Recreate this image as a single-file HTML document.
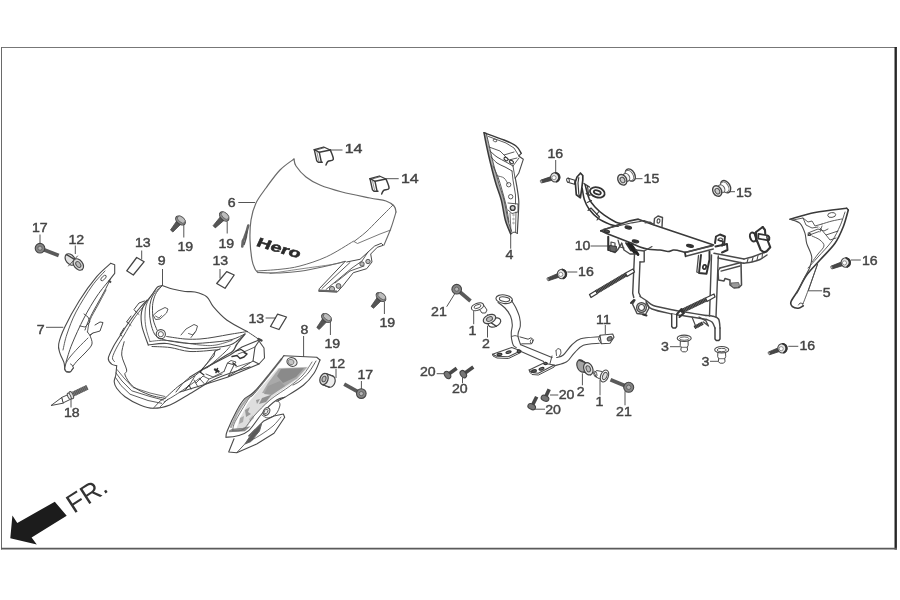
<!DOCTYPE html>
<html lang="en">
<head>
<meta charset="utf-8">
<title>Parts diagram</title>
<style>
html,body{margin:0;padding:0;background:#fff;}
body{width:900px;height:600px;overflow:hidden;font-family:"Liberation Sans",Arial,Helvetica,sans-serif;}
svg{display:block;position:absolute;left:0;top:0;filter:blur(0.6px);}
svg text{font-family:"Liberation Sans",Arial,Helvetica,sans-serif;}
</style>
</head>
<body>
<svg width="900" height="600" viewBox="0 0 900 600">
<rect x="0" y="0" width="900" height="600" fill="#fff"/>
<line x1="1" y1="47.5" x2="897" y2="47.5" stroke="#777" stroke-width="1"/>
<line x1="1.5" y1="47" x2="1.5" y2="549.5" stroke="#6a6a6a" stroke-width="1"/>
<line x1="895.7" y1="47" x2="895.7" y2="549.5" stroke="#262626" stroke-width="2.4"/>
<line x1="1" y1="548.6" x2="897" y2="548.6" stroke="#5a5a5a" stroke-width="1.9"/>
<polygon points="10.3,538.2 12.4,515.4 17.3,523 54.8,501.7 66.7,515.7 31.6,537.6 36.8,544.5" fill="#1c1c1c"/>
<text transform="translate(73.8 514) rotate(-33)" font-size="26.5" fill="#333">FR.</text>
<text transform="translate(31.9 232.3) scale(1.15 1)" font-size="12.3" fill="#444" stroke="#444" stroke-width="0.4">17</text>
<line x1="40" y1="234.5" x2="40" y2="245" stroke="#555" stroke-width="1"/>
<text transform="translate(68.4 244.3) scale(1.15 1)" font-size="12.3" fill="#444" stroke="#444" stroke-width="0.4">12</text>
<line x1="75.3" y1="245.5" x2="75.3" y2="254" stroke="#555" stroke-width="1"/>
<text transform="translate(134.9 247) scale(1.15 1)" font-size="12.3" fill="#444" stroke="#444" stroke-width="0.4">13</text>
<line x1="141.7" y1="250.5" x2="141.7" y2="259.5" stroke="#555" stroke-width="1"/>
<text transform="translate(177.4 251.1) scale(1.15 1)" font-size="12.3" fill="#444" stroke="#444" stroke-width="0.4">19</text>
<line x1="183.8" y1="223.5" x2="183.8" y2="237.5" stroke="#555" stroke-width="1"/>
<text transform="translate(218.4 247.8) scale(1.15 1)" font-size="12.3" fill="#444" stroke="#444" stroke-width="0.4">19</text>
<line x1="227.2" y1="221.5" x2="227.2" y2="233.5" stroke="#555" stroke-width="1"/>
<text transform="translate(227.7 207) scale(1.15 1)" font-size="12.3" fill="#444" stroke="#444" stroke-width="0.4">6</text>
<line x1="238.3" y1="202.5" x2="255" y2="202.5" stroke="#555" stroke-width="1"/>
<text transform="translate(157.7 265.3) scale(1.15 1)" font-size="12.3" fill="#444" stroke="#444" stroke-width="0.4">9</text>
<line x1="162.5" y1="269" x2="162.5" y2="286" stroke="#555" stroke-width="1"/>
<text transform="translate(212.4 265.3) scale(1.15 1)" font-size="12.3" fill="#444" stroke="#444" stroke-width="0.4">13</text>
<line x1="220" y1="269" x2="220" y2="278.5" stroke="#555" stroke-width="1"/>
<text transform="translate(344.7 153.3) scale(1.3 1)" font-size="12.3" fill="#444" stroke="#444" stroke-width="0.4">14</text>
<line x1="330.7" y1="150" x2="342.5" y2="150" stroke="#555" stroke-width="1"/>
<text transform="translate(400.9 182.5) scale(1.3 1)" font-size="12.3" fill="#444" stroke="#444" stroke-width="0.4">14</text>
<line x1="386.7" y1="178.7" x2="398.7" y2="178.7" stroke="#555" stroke-width="1"/>
<text transform="translate(36.7 334.3) scale(1.15 1)" font-size="12.3" fill="#444" stroke="#444" stroke-width="0.4">7</text>
<line x1="46" y1="327.3" x2="63.3" y2="327.3" stroke="#555" stroke-width="1"/>
<text transform="translate(63.9 417) scale(1.15 1)" font-size="12.3" fill="#444" stroke="#444" stroke-width="0.4">18</text>
<line x1="71" y1="398.5" x2="71" y2="407.5" stroke="#555" stroke-width="1"/>
<text transform="translate(248.4 322.7) scale(1.15 1)" font-size="12.3" fill="#444" stroke="#444" stroke-width="0.4">13</text>
<line x1="265.6" y1="318" x2="276" y2="318" stroke="#555" stroke-width="1"/>
<text transform="translate(300.4 334.3) scale(1.15 1)" font-size="12.3" fill="#444" stroke="#444" stroke-width="0.4">8</text>
<line x1="303.6" y1="336" x2="303.6" y2="357" stroke="#555" stroke-width="1"/>
<text transform="translate(324.4 348.3) scale(1.15 1)" font-size="12.3" fill="#444" stroke="#444" stroke-width="0.4">19</text>
<line x1="330.4" y1="322" x2="330.4" y2="335" stroke="#555" stroke-width="1"/>
<text transform="translate(379.4 327.3) scale(1.15 1)" font-size="12.3" fill="#444" stroke="#444" stroke-width="0.4">19</text>
<line x1="384.4" y1="302" x2="384.4" y2="314" stroke="#555" stroke-width="1"/>
<text transform="translate(329.4 367.7) scale(1.15 1)" font-size="12.3" fill="#444" stroke="#444" stroke-width="0.4">12</text>
<line x1="336" y1="369" x2="336" y2="378" stroke="#555" stroke-width="1"/>
<text transform="translate(357.4 378.7) scale(1.15 1)" font-size="12.3" fill="#444" stroke="#444" stroke-width="0.4">17</text>
<line x1="361.4" y1="381" x2="361.4" y2="391" stroke="#555" stroke-width="1"/>
<text transform="translate(547.4 158.3) scale(1.15 1)" font-size="12.3" fill="#444" stroke="#444" stroke-width="0.4">16</text>
<line x1="555.7" y1="160" x2="555.7" y2="172" stroke="#555" stroke-width="1"/>
<text transform="translate(505.4 259.1) scale(1.15 1)" font-size="12.3" fill="#444" stroke="#444" stroke-width="0.4">4</text>
<line x1="510.7" y1="234" x2="510.7" y2="248.7" stroke="#555" stroke-width="1"/>
<text transform="translate(643.6 182.8) scale(1.15 1)" font-size="12.3" fill="#444" stroke="#444" stroke-width="0.4">15</text>
<line x1="635" y1="178.7" x2="642.5" y2="178.7" stroke="#555" stroke-width="1"/>
<text transform="translate(736.1 197) scale(1.15 1)" font-size="12.3" fill="#444" stroke="#444" stroke-width="0.4">15</text>
<line x1="729.2" y1="191.7" x2="735" y2="191.7" stroke="#555" stroke-width="1"/>
<text transform="translate(574.7 250.3) scale(1.15 1)" font-size="12.3" fill="#444" stroke="#444" stroke-width="0.4">10</text>
<line x1="590.5" y1="246" x2="609" y2="246" stroke="#555" stroke-width="1"/>
<text transform="translate(578.1 275.6) scale(1.15 1)" font-size="12.3" fill="#444" stroke="#444" stroke-width="0.4">16</text>
<line x1="567.3" y1="272" x2="577.3" y2="272" stroke="#555" stroke-width="1"/>
<text transform="translate(861.9 264.5) scale(1.15 1)" font-size="12.3" fill="#444" stroke="#444" stroke-width="0.4">16</text>
<line x1="850.8" y1="260" x2="860.8" y2="260" stroke="#555" stroke-width="1"/>
<text transform="translate(799.4 349.5) scale(1.15 1)" font-size="12.3" fill="#444" stroke="#444" stroke-width="0.4">16</text>
<line x1="788.3" y1="346.3" x2="798.3" y2="346.3" stroke="#555" stroke-width="1"/>
<text transform="translate(822.7 297) scale(1.15 1)" font-size="12.3" fill="#444" stroke="#444" stroke-width="0.4">5</text>
<path d="M817.5 264.2 L808.3 290.8 L821.7 290.8" fill="none" stroke="#555" stroke-width="1.0" stroke-linecap="round" stroke-linejoin="round" />
<text transform="translate(596.1 323.6) scale(1.15 1)" font-size="12.3" fill="#444" stroke="#444" stroke-width="0.4">11</text>
<line x1="605.3" y1="325" x2="605.3" y2="334.2" stroke="#555" stroke-width="1"/>
<text transform="translate(661.1 351.1) scale(1.15 1)" font-size="12.3" fill="#444" stroke="#444" stroke-width="0.4">3</text>
<line x1="670" y1="346.7" x2="680" y2="346.7" stroke="#555" stroke-width="1"/>
<text transform="translate(701.4 366.1) scale(1.15 1)" font-size="12.3" fill="#444" stroke="#444" stroke-width="0.4">3</text>
<line x1="710" y1="361.3" x2="718.3" y2="361.3" stroke="#555" stroke-width="1"/>
<text transform="translate(431.1 315.6) scale(1.15 1)" font-size="12.3" fill="#444" stroke="#444" stroke-width="0.4">21</text>
<line x1="455" y1="293.3" x2="446.7" y2="306.7" stroke="#555" stroke-width="1"/>
<text transform="translate(468.6 335) scale(1.15 1)" font-size="12.3" fill="#444" stroke="#444" stroke-width="0.4">1</text>
<line x1="473.7" y1="310.8" x2="473.7" y2="324.2" stroke="#555" stroke-width="1"/>
<text transform="translate(481.9 347.8) scale(1.15 1)" font-size="12.3" fill="#444" stroke="#444" stroke-width="0.4">2</text>
<line x1="487.5" y1="325.8" x2="487.5" y2="337.5" stroke="#555" stroke-width="1"/>
<text transform="translate(419.9 376.1) scale(1.15 1)" font-size="12.3" fill="#444" stroke="#444" stroke-width="0.4">20</text>
<line x1="436.7" y1="373.7" x2="444.2" y2="373.7" stroke="#555" stroke-width="1"/>
<text transform="translate(451.9 392.8) scale(1.15 1)" font-size="12.3" fill="#444" stroke="#444" stroke-width="0.4">20</text>
<line x1="462.5" y1="377.5" x2="462.5" y2="383.3" stroke="#555" stroke-width="1"/>
<text transform="translate(558.7 399.1) scale(1.15 1)" font-size="12.3" fill="#444" stroke="#444" stroke-width="0.4">20</text>
<line x1="550" y1="395" x2="558.3" y2="395" stroke="#555" stroke-width="1"/>
<text transform="translate(545.2 413.9) scale(1.15 1)" font-size="12.3" fill="#444" stroke="#444" stroke-width="0.4">20</text>
<line x1="535" y1="409.2" x2="545" y2="409.2" stroke="#555" stroke-width="1"/>
<text transform="translate(576.7 395.6) scale(1.15 1)" font-size="12.3" fill="#444" stroke="#444" stroke-width="0.4">2</text>
<line x1="582.4" y1="373.3" x2="582.4" y2="385.3" stroke="#555" stroke-width="1"/>
<text transform="translate(595.4 405.6) scale(1.15 1)" font-size="12.3" fill="#444" stroke="#444" stroke-width="0.4">1</text>
<line x1="600" y1="380" x2="600" y2="395.3" stroke="#555" stroke-width="1"/>
<text transform="translate(616.1 415.6) scale(1.15 1)" font-size="12.3" fill="#444" stroke="#444" stroke-width="0.4">21</text>
<line x1="625" y1="391.3" x2="625" y2="405.3" stroke="#555" stroke-width="1"/>
<line x1="40" y1="248.2" x2="58.7" y2="255.5" stroke="#5a5a5a" stroke-width="3.8" stroke-linecap="butt"/>
<circle cx="40" cy="248.2" r="4.8" fill="#858585" stroke="#444" stroke-width="1.1"/>
<circle cx="40" cy="248.2" r="2.1" fill="#b5b5b5" stroke="#555" stroke-width="0.8"/>
<line x1="361.3" y1="393.6" x2="344.2" y2="384.1" stroke="#5a5a5a" stroke-width="3.8" stroke-linecap="butt"/>
<circle cx="361.3" cy="393.6" r="4.8" fill="#858585" stroke="#444" stroke-width="1.1"/>
<circle cx="361.3" cy="393.6" r="2.1" fill="#b5b5b5" stroke="#555" stroke-width="0.8"/>
<line x1="456.7" y1="289.2" x2="470.5" y2="301" stroke="#5a5a5a" stroke-width="3.8" stroke-linecap="butt"/>
<circle cx="456.7" cy="289.2" r="4.8" fill="#858585" stroke="#444" stroke-width="1.1"/>
<circle cx="456.7" cy="289.2" r="2.1" fill="#b5b5b5" stroke="#555" stroke-width="0.8"/>
<line x1="628.7" y1="387.3" x2="610.5" y2="379.8" stroke="#5a5a5a" stroke-width="3.8" stroke-linecap="butt"/>
<circle cx="628.7" cy="387.3" r="5" fill="#858585" stroke="#444" stroke-width="1.1"/>
<circle cx="628.7" cy="387.3" r="2.2" fill="#b5b5b5" stroke="#555" stroke-width="0.8"/>
<path d="M554.7 175.3 L540.9 180.1 L541.7 182.9 L555.9 179.3Z" fill="#484848" stroke="#3a3a3a" stroke-width="0.8" stroke-linecap="round" stroke-linejoin="round" />
<ellipse cx="541.3" cy="181.5" rx="0.9" ry="1.5" transform="rotate(163.3 541.3 181.5)" fill="#bbb" stroke="#444" stroke-width="0.6"/>
<circle cx="555.3" cy="177.3" r="4.7" fill="#e8e8e8" stroke="#444" stroke-width="1.1"/>
<path d="M555.8 172.9 A4.7 4.7 0 0 1 556.8 181.5" fill="none" stroke="#333" stroke-width="2" stroke-linecap="round"/>
<circle cx="554" cy="177.7" r="2.1" fill="#fff" stroke="#777" stroke-width="0.8"/>
<path d="M561.3 272 L547.5 277.9 L548.5 280.7 L562.7 276Z" fill="#484848" stroke="#3a3a3a" stroke-width="0.8" stroke-linecap="round" stroke-linejoin="round" />
<ellipse cx="548" cy="279.3" rx="0.9" ry="1.5" transform="rotate(159.3 548 279.3)" fill="#bbb" stroke="#444" stroke-width="0.6"/>
<circle cx="562" cy="274" r="4.7" fill="#e8e8e8" stroke="#444" stroke-width="1.1"/>
<path d="M562.5 269.6 A4.7 4.7 0 0 1 563.5 278.2" fill="none" stroke="#333" stroke-width="2" stroke-linecap="round"/>
<circle cx="560.7" cy="274.4" r="2.1" fill="#fff" stroke="#777" stroke-width="0.8"/>
<path d="M845.1 260.5 L831.2 266.1 L832.2 268.9 L846.5 264.5Z" fill="#484848" stroke="#3a3a3a" stroke-width="0.8" stroke-linecap="round" stroke-linejoin="round" />
<ellipse cx="831.7" cy="267.5" rx="0.9" ry="1.5" transform="rotate(160.5 831.7 267.5)" fill="#bbb" stroke="#444" stroke-width="0.6"/>
<circle cx="845.8" cy="262.5" r="4.7" fill="#e8e8e8" stroke="#444" stroke-width="1.1"/>
<path d="M846.3 258.1 A4.7 4.7 0 0 1 847.3 266.7" fill="none" stroke="#333" stroke-width="2" stroke-linecap="round"/>
<circle cx="844.5" cy="262.9" r="2.1" fill="#fff" stroke="#777" stroke-width="0.8"/>
<path d="M781.8 346.3 L768.7 351.9 L769.7 354.7 L783.2 350.3Z" fill="#484848" stroke="#3a3a3a" stroke-width="0.8" stroke-linecap="round" stroke-linejoin="round" />
<ellipse cx="769.2" cy="353.3" rx="0.9" ry="1.5" transform="rotate(159.4 769.2 353.3)" fill="#bbb" stroke="#444" stroke-width="0.6"/>
<circle cx="782.5" cy="348.3" r="4.7" fill="#e8e8e8" stroke="#444" stroke-width="1.1"/>
<path d="M783 343.9 A4.7 4.7 0 0 1 784 352.5" fill="none" stroke="#333" stroke-width="2" stroke-linecap="round"/>
<circle cx="781.2" cy="348.7" r="2.1" fill="#fff" stroke="#777" stroke-width="0.8"/>
<line x1="447.5" y1="375" x2="456.7" y2="368.3" stroke="#484848" stroke-width="3.6"/>
<ellipse cx="447.5" cy="375" rx="2.7" ry="4" transform="rotate(-36.1 447.5 375)" fill="#777" stroke="#444" stroke-width="1.1"/>
<line x1="463.3" y1="374.2" x2="473.3" y2="367" stroke="#484848" stroke-width="3.6"/>
<ellipse cx="463.3" cy="374.2" rx="2.7" ry="4" transform="rotate(-35.8 463.3 374.2)" fill="#777" stroke="#444" stroke-width="1.1"/>
<line x1="545" y1="398.3" x2="549.2" y2="389.2" stroke="#484848" stroke-width="3.6"/>
<ellipse cx="545" cy="398.3" rx="2.7" ry="4" transform="rotate(-65.2 545 398.3)" fill="#777" stroke="#444" stroke-width="1.1"/>
<line x1="531.7" y1="406.7" x2="536.7" y2="396.7" stroke="#484848" stroke-width="3.6"/>
<ellipse cx="531.7" cy="406.7" rx="2.7" ry="4" transform="rotate(-63.4 531.7 406.7)" fill="#777" stroke="#444" stroke-width="1.1"/>
<path d="M176.9 220.7 L170.5 230 L172.9 232 L180.9 224.1Z" fill="#555" stroke="#444" stroke-width="0.8" stroke-linecap="round" stroke-linejoin="round" />
<ellipse cx="180.5" cy="220.5" rx="5.6" ry="3.6" transform="rotate(220 180.5 220.5)" fill="#8a8a8a" stroke="#444" stroke-width="1.0"/>
<ellipse cx="181.3" cy="219.6" rx="4.6" ry="2.6" transform="rotate(220 181.3 219.6)" fill="#bdbdbd" stroke="#555" stroke-width="0.7"/>
<path d="M220.6 216.5 L213.1 225.7 L215.3 227.9 L224.3 220.1Z" fill="#555" stroke="#444" stroke-width="0.8" stroke-linecap="round" stroke-linejoin="round" />
<ellipse cx="224.2" cy="216.5" rx="5.6" ry="3.6" transform="rotate(224.2 224.2 216.5)" fill="#8a8a8a" stroke="#444" stroke-width="1.0"/>
<ellipse cx="225" cy="215.6" rx="4.6" ry="2.6" transform="rotate(224.2 225 215.6)" fill="#bdbdbd" stroke="#555" stroke-width="0.7"/>
<path d="M322.9 318.3 L316.8 327.5 L319.2 329.5 L326.9 321.6Z" fill="#555" stroke="#444" stroke-width="0.8" stroke-linecap="round" stroke-linejoin="round" />
<ellipse cx="326.5" cy="318" rx="5.6" ry="3.6" transform="rotate(219 326.5 318)" fill="#8a8a8a" stroke="#444" stroke-width="1.0"/>
<ellipse cx="327.3" cy="317.1" rx="4.6" ry="2.6" transform="rotate(219 327.3 317.1)" fill="#bdbdbd" stroke="#555" stroke-width="0.7"/>
<path d="M377.4 297.2 L371.1 306.3 L373.5 308.3 L381.4 300.6Z" fill="#555" stroke="#444" stroke-width="0.8" stroke-linecap="round" stroke-linejoin="round" />
<ellipse cx="381" cy="297" rx="5.6" ry="3.6" transform="rotate(220.2 381 297)" fill="#8a8a8a" stroke="#444" stroke-width="1.0"/>
<ellipse cx="381.8" cy="296.1" rx="4.6" ry="2.6" transform="rotate(220.2 381.8 296.1)" fill="#bdbdbd" stroke="#555" stroke-width="0.7"/>
<path d="M136.7 257.5 L144.2 261.7 L133.3 275 L126.7 270.8Z" fill="none" stroke="#444" stroke-width="1.3" stroke-linecap="round" stroke-linejoin="round" />
<path d="M226.7 271.7 L234.2 275 L225 288.3 L216.7 283.5Z" fill="none" stroke="#444" stroke-width="1.3" stroke-linecap="round" stroke-linejoin="round" />
<path d="M277.5 314.2 L286.5 317 L279 329.5 L270.5 326.5Z" fill="none" stroke="#444" stroke-width="1.3" stroke-linecap="round" stroke-linejoin="round" />
<ellipse cx="70.3" cy="259.5" rx="4.4" ry="6.4" transform="rotate(-38 70.3 259.5)" fill="#e2e2e2" stroke="#444" stroke-width="1.2"/>
<path d="M74.2 264.5 L82.2 269.5" fill="none" stroke="#444" stroke-width="1.2" stroke-linecap="round" stroke-linejoin="round" />
<path d="M66.4 254.5 L74.4 259.5" fill="none" stroke="#444" stroke-width="1.2" stroke-linecap="round" stroke-linejoin="round" />
<path d="M74.2 264.5 L82.2 269.5 L74.4 259.5 L66.4 254.5Z" fill="#e2e2e2" stroke="none"/>
<path d="M74.2 264.5 L82.2 269.5" fill="none" stroke="#444" stroke-width="1.2" stroke-linecap="round" stroke-linejoin="round" />
<path d="M66.4 254.5 L74.4 259.5" fill="none" stroke="#444" stroke-width="1.2" stroke-linecap="round" stroke-linejoin="round" />
<ellipse cx="78.3" cy="264.5" rx="4.4" ry="6.4" transform="rotate(-38 78.3 264.5)" fill="#d8d8d8" stroke="#444" stroke-width="1.2"/>
<ellipse cx="78.3" cy="264.5" rx="2.1" ry="3.2" transform="rotate(-38 78.3 264.5)" fill="#bbb" stroke="#555" stroke-width="1.0"/>
<path d="M68.5 266 L77.5 256" fill="none" stroke="#555" stroke-width="1.0" stroke-linecap="round" stroke-linejoin="round" />
<ellipse cx="331" cy="381.6" rx="4" ry="5.8" transform="rotate(18 331 381.6)" fill="#eee" stroke="#444" stroke-width="1.2"/>
<path d="M329.2 387.1 L322.2 384.5" fill="none" stroke="#444" stroke-width="1.2" stroke-linecap="round" stroke-linejoin="round" />
<path d="M332.8 376.1 L325.8 373.5" fill="none" stroke="#444" stroke-width="1.2" stroke-linecap="round" stroke-linejoin="round" />
<path d="M329.2 387.1 L322.2 384.5 L325.8 373.5 L332.8 376.1Z" fill="#eee" stroke="none"/>
<path d="M329.2 387.1 L322.2 384.5" fill="none" stroke="#444" stroke-width="1.2" stroke-linecap="round" stroke-linejoin="round" />
<path d="M332.8 376.1 L325.8 373.5" fill="none" stroke="#444" stroke-width="1.2" stroke-linecap="round" stroke-linejoin="round" />
<ellipse cx="324" cy="379" rx="4" ry="5.8" transform="rotate(18 324 379)" fill="#d8d8d8" stroke="#444" stroke-width="1.2"/>
<ellipse cx="324" cy="379" rx="1.9" ry="2.9" transform="rotate(18 324 379)" fill="#bbb" stroke="#555" stroke-width="1.0"/>
<ellipse cx="630.3" cy="175" rx="4.4" ry="6.6" transform="rotate(-30 630.3 175)" fill="#fff" stroke="#444" stroke-width="1.4"/>
<ellipse cx="629.4" cy="175.5" rx="3.6" ry="5.6" transform="rotate(-30 629.4 175.5)" fill="#fff" stroke="#666" stroke-width="0.9"/>
<ellipse cx="626.3" cy="177.4" rx="3.2" ry="4.2" transform="rotate(-30 626.3 177.4)" fill="#f2f2f2" stroke="#555" stroke-width="1.0"/>
<ellipse cx="622.3" cy="179.8" rx="4.2" ry="5.6" transform="rotate(-30 622.3 179.8)" fill="#eee" stroke="#444" stroke-width="1.4"/>
<ellipse cx="622.5" cy="180" rx="2.2" ry="3" transform="rotate(-30 622.5 180)" fill="#ccc" stroke="#555" stroke-width="1.1"/>
<ellipse cx="725.6" cy="186.6" rx="4.4" ry="6.6" transform="rotate(-30 725.6 186.6)" fill="#fff" stroke="#444" stroke-width="1.4"/>
<ellipse cx="724.7" cy="187.1" rx="3.6" ry="5.6" transform="rotate(-30 724.7 187.1)" fill="#fff" stroke="#666" stroke-width="0.9"/>
<ellipse cx="721.4" cy="188.8" rx="3.2" ry="4.2" transform="rotate(-30 721.4 188.8)" fill="#f2f2f2" stroke="#555" stroke-width="1.0"/>
<ellipse cx="717.2" cy="191" rx="4.2" ry="5.6" transform="rotate(-30 717.2 191)" fill="#eee" stroke="#444" stroke-width="1.4"/>
<ellipse cx="717.4" cy="191.2" rx="2.2" ry="3" transform="rotate(-30 717.4 191.2)" fill="#ccc" stroke="#555" stroke-width="1.1"/>
<ellipse cx="494.5" cy="322.5" rx="6.6" ry="4.2" transform="rotate(-25 494.5 322.5)" fill="#fff" stroke="#444" stroke-width="1.2"/>
<path d="M496.3 326.3 L491.3 322.8" fill="none" stroke="#444" stroke-width="1.2" stroke-linecap="round" stroke-linejoin="round" />
<path d="M492.7 318.7 L487.7 315.2" fill="none" stroke="#444" stroke-width="1.2" stroke-linecap="round" stroke-linejoin="round" />
<path d="M496.3 326.3 L491.3 322.8 L487.7 315.2 L492.7 318.7Z" fill="#fff" stroke="none"/>
<path d="M496.3 326.3 L491.3 322.8" fill="none" stroke="#444" stroke-width="1.2" stroke-linecap="round" stroke-linejoin="round" />
<path d="M492.7 318.7 L487.7 315.2" fill="none" stroke="#444" stroke-width="1.2" stroke-linecap="round" stroke-linejoin="round" />
<ellipse cx="489.5" cy="319" rx="6.6" ry="4.2" transform="rotate(-25 489.5 319)" fill="#e4e4e4" stroke="#444" stroke-width="1.2"/>
<ellipse cx="489.5" cy="319" rx="3.2" ry="2.1" transform="rotate(-25 489.5 319)" fill="#bbb" stroke="#555" stroke-width="1.0"/>
<ellipse cx="581.5" cy="366" rx="4.4" ry="6.4" transform="rotate(-22 581.5 366)" fill="#a5a5a5" stroke="#444" stroke-width="1.2"/>
<path d="M583.9 371.9 L590.7 374.7" fill="none" stroke="#444" stroke-width="1.2" stroke-linecap="round" stroke-linejoin="round" />
<path d="M579.1 360.1 L585.9 362.9" fill="none" stroke="#444" stroke-width="1.2" stroke-linecap="round" stroke-linejoin="round" />
<path d="M583.9 371.9 L590.7 374.7 L585.9 362.9 L579.1 360.1Z" fill="#a5a5a5" stroke="none"/>
<path d="M583.9 371.9 L590.7 374.7" fill="none" stroke="#444" stroke-width="1.2" stroke-linecap="round" stroke-linejoin="round" />
<path d="M579.1 360.1 L585.9 362.9" fill="none" stroke="#444" stroke-width="1.2" stroke-linecap="round" stroke-linejoin="round" />
<ellipse cx="588.3" cy="368.8" rx="4.4" ry="6.4" transform="rotate(-22 588.3 368.8)" fill="#e2e2e2" stroke="#444" stroke-width="1.2"/>
<ellipse cx="588.3" cy="368.8" rx="2.1" ry="3.2" transform="rotate(-22 588.3 368.8)" fill="#bbb" stroke="#555" stroke-width="1.0"/>
<path d="M110.7 263.3 C108.4 265.5 101.9 270.5 96.7 276.7 C91.5 282.9 84.6 292.3 79.3 300.7 C74 309.1 68.1 320.1 64.7 327.3 C61.3 334.5 59.5 339.7 58.7 344 C57.9 348.3 59.1 350.2 60 353.3 C60.9 356.4 63.1 359.8 64 362.7 C64.9 365.6 64.3 369.1 65.3 370.7 C66.3 372.2 68.7 372.4 70 372 C71.3 371.6 72.8 368.7 73.3 368" fill="none" stroke="#4a4a4a" stroke-width="1.1" stroke-linecap="round" stroke-linejoin="round" />
<path d="M110.7 263.3 L114.7 264.7 L114.7 273.3 L110 279.3" fill="none" stroke="#4a4a4a" stroke-width="1.1" stroke-linecap="round" stroke-linejoin="round" />
<path d="M110 279.3 C107.8 282.1 101.3 289.6 97 296 C92.7 302.4 88.2 310 84 318 C79.8 326 75 336.7 72 344 C69 351.3 67 359 66 362" fill="none" stroke="#4a4a4a" stroke-width="1.0" stroke-linecap="round" stroke-linejoin="round" />
<path d="M105 271 C102.8 273.5 96.8 279.2 92 286 C87.2 292.8 80.2 304 76 312 C71.8 320 69.2 327.7 67 334 C64.8 340.3 63.7 347.3 63 350" fill="none" stroke="#4a4a4a" stroke-width="0.9" stroke-linecap="round" stroke-linejoin="round" />
<ellipse cx="103.5" cy="278" rx="3.5" ry="1.6" transform="rotate(-45 103.5 278)" fill="none" stroke="#4a4a4a" stroke-width="0.9"/>
<path d="M110 280 C109 282 106.7 287 104 292 C101.3 297 96.7 305 94 310 C91.3 315 89.5 318.7 88 322 C86.5 325.3 85.5 328.7 85 330" fill="none" stroke="#4a4a4a" stroke-width="1.0" stroke-linecap="round" stroke-linejoin="round" />
<path d="M106 290 C104.7 292.5 100.7 300 98 305 C95.3 310 91.8 315.5 90 320 C88.2 324.5 87.9 330 87.5 332" fill="none" stroke="#4a4a4a" stroke-width="0.9" stroke-linecap="round" stroke-linejoin="round" />
<path d="M84 314 L88 317 L90 322 L85 327 L80 326" fill="none" stroke="#4a4a4a" stroke-width="0.9" stroke-linecap="round" stroke-linejoin="round" />
<path d="M95 325 L100 322 L103 322.5 L100 331 L93 333 L90 335" fill="none" stroke="#4a4a4a" stroke-width="1.0" stroke-linecap="round" stroke-linejoin="round" />
<path d="M87.5 332 L90 335.5 L93 333" fill="none" stroke="#4a4a4a" stroke-width="0.9" stroke-linecap="round" stroke-linejoin="round" />
<path d="M90 335.5 C90.3 336.9 92.7 341.2 92 344 C91.3 346.8 88.3 349.3 86 352 C83.7 354.7 80.2 357.7 78 360 C75.8 362.3 73.8 365 73 366" fill="none" stroke="#4a4a4a" stroke-width="1.0" stroke-linecap="round" stroke-linejoin="round" />
<path d="M88 338 C86.3 339.7 81 344.8 78 348 C75 351.2 72 354.5 70 357 C68 359.5 66.7 362 66 363" fill="none" stroke="#4a4a4a" stroke-width="0.9" stroke-linecap="round" stroke-linejoin="round" />
<path d="M66 363 L64.5 369 L66.5 371.5 L70.5 372 L72 369.5 L73.5 368 L72.5 365.5 L70.5 364" fill="none" stroke="#4a4a4a" stroke-width="1.0" stroke-linecap="round" stroke-linejoin="round" />
<line x1="108.5" y1="280.5" x2="111" y2="282.5" stroke="#444" stroke-width="2"/>
<path d="M51.3 405.3 L62 397.3 L63.5 402.7Z" fill="#fff" stroke="#4a4a4a" stroke-width="1.0" stroke-linecap="round" stroke-linejoin="round" />
<path d="M62 397.3 L70 393.8 L71.5 398.8 L63.5 402.7Z" fill="#fff" stroke="#4a4a4a" stroke-width="1.0" stroke-linecap="round" stroke-linejoin="round" />
<ellipse cx="71.3" cy="395.2" rx="1.8" ry="3.8" transform="rotate(-25 71.3 395.2)" fill="#ddd" stroke="#4a4a4a" stroke-width="1.0"/>
<ellipse cx="69.2" cy="396.2" rx="1.4" ry="3.4" transform="rotate(-25 69.2 396.2)" fill="#eee" stroke="#4a4a4a" stroke-width="0.9"/>
<line x1="73.3" y1="394" x2="87.5" y2="387.2" stroke="#777" stroke-width="5" stroke-linecap="butt"/>
<line x1="73.3" y1="394" x2="87.5" y2="387.2" stroke="#555" stroke-width="5" stroke-dasharray="0.8 1" stroke-linecap="butt"/>
<path d="M162.3 285.5 C162.8 285.7 163.3 285.9 165 286.5 C166.7 287.1 169.2 288.2 172.5 289 C175.8 289.8 181.2 291 185 291.5 C188.8 292 191.4 291.1 195 292 C198.6 292.9 203.6 294.2 206.7 296.7 C209.8 299.1 210 302.8 213.3 306.7 C216.6 310.6 221 315.8 226.7 320 C232.4 324.2 244 329.8 247.5 331.7" fill="none" stroke="#4a4a4a" stroke-width="1.1" stroke-linecap="round" stroke-linejoin="round" />
<path d="M247.5 331.5 C244.6 332 235.4 333.4 230 334.3 C224.6 335.2 220 336.2 215 337 C210 337.8 205 338.7 200 339 C195 339.3 190.6 339.4 185 339 C179.4 338.6 169.8 336.9 166.7 336.5" fill="none" stroke="#4a4a4a" stroke-width="1.0" stroke-linecap="round" stroke-linejoin="round" />
<path d="M245 334 C242.8 334.9 237 338.2 232 339.5 C227 340.8 222 341.3 215 342 C208 342.7 197.5 343.7 190 343.5 C182.5 343.3 175 341.8 170 341 C165 340.2 161.7 338.9 160 338.5" fill="none" stroke="#4a4a4a" stroke-width="1.0" stroke-linecap="round" stroke-linejoin="round" />
<path d="M162.3 285.5 C161.3 286.7 158 290.1 156.5 292.5 C155 294.9 154.2 297.4 153.5 300 C152.8 302.6 152.5 304.7 152.5 308 C152.5 311.3 152.6 316.3 153.3 320 C154.1 323.7 156.4 328.3 157 330" fill="none" stroke="#4a4a4a" stroke-width="1.0" stroke-linecap="round" stroke-linejoin="round" />
<path d="M162.3 285.5 C161.1 286.7 156.9 290.1 155 292.5 C153.1 294.9 151.9 297.1 151 300 C150.1 302.9 149.6 306.3 149.5 310 C149.4 313.7 149.7 318 150.5 322 C151.3 326 152.9 331.2 154.5 334 C156.1 336.8 159.1 337.8 160 338.5" fill="none" stroke="#4a4a4a" stroke-width="1.0" stroke-linecap="round" stroke-linejoin="round" />
<circle cx="160.8" cy="334.2" r="4.6" fill="none" stroke="#4a4a4a" stroke-width="1.1"/>
<circle cx="160.8" cy="334.2" r="2.6" fill="none" stroke="#4a4a4a" stroke-width="0.9"/>
<path d="M162.3 285.5 C161.5 285.8 159.1 285.6 157.5 287 C155.9 288.4 155 290.4 152.5 294 C150 297.6 144.3 303.1 142.5 308.3 C140.7 313.5 140.7 318.9 141.7 325 C142.7 331.1 147.2 341.7 148.3 345" fill="none" stroke="#4a4a4a" stroke-width="1.1" stroke-linecap="round" stroke-linejoin="round" />
<path d="M148.3 345 C151.4 344.8 159.8 342.9 166.7 343.5 C173.6 344.1 181.9 347.8 190 348.5 C198.1 349.2 208.3 348.1 215 347.5 C221.7 346.9 226.3 346.1 230 345 C233.7 343.9 234.6 342.8 237 341 C239.4 339.2 243.2 335.6 244.5 334.5" fill="none" stroke="#4a4a4a" stroke-width="1.1" stroke-linecap="round" stroke-linejoin="round" />
<path d="M152 346.5 C155 346.7 163.7 346.7 170 347.5 C176.3 348.3 182.5 351.1 190 351.5 C197.5 351.9 210 350.4 215 350 C220 349.6 219.2 349.2 220 349" fill="none" stroke="#4a4a4a" stroke-width="1.0" stroke-linecap="round" stroke-linejoin="round" />
<path d="M156 289 C154.5 291.3 148.8 298.7 147 303 C145.2 307.3 145.2 310.8 145 315 C144.8 319.2 145.2 323.6 146 328 C146.8 332.4 149.3 339.2 150 341.5" fill="none" stroke="#4a4a4a" stroke-width="0.8" stroke-linecap="round" stroke-linejoin="round" />
<path d="M150 341.5 C152.8 341.3 158.7 339.9 167 340.5 C175.3 341.1 191.8 344.2 200 345 C208.2 345.8 210.7 345.8 216 345 C221.3 344.2 229.3 341.2 232 340.5" fill="none" stroke="#4a4a4a" stroke-width="0.8" stroke-linecap="round" stroke-linejoin="round" />
<path d="M153.5 315 L158 311 L165 307.5 L168 309 L166.5 313 L160 319 L156 319.5Z" fill="none" stroke="#4a4a4a" stroke-width="0.9" stroke-linecap="round" stroke-linejoin="round" />
<path d="M155.5 316 L159 318 L161.5 315.5" fill="none" stroke="#4a4a4a" stroke-width="0.8" stroke-linecap="round" stroke-linejoin="round" />
<path d="M181 335 L186 329 L194 324.5 L197.5 326 L196 331 L191 337.5" fill="none" stroke="#4a4a4a" stroke-width="0.9" stroke-linecap="round" stroke-linejoin="round" />
<path d="M188.5 333.5 L193 335 L195 332" fill="none" stroke="#4a4a4a" stroke-width="0.8" stroke-linecap="round" stroke-linejoin="round" />
<path d="M147 300 C145.5 301.7 141.3 305.8 138 310 C134.7 314.2 129.7 321.1 127 325 C124.3 328.9 124 329.7 121.7 333.3 C119.4 336.9 115.5 342.5 113.3 346.7 C111.1 350.9 108.6 355.4 108.3 358.3 C108 361.2 110.3 362.9 111.7 364.2 C113.1 365.4 115.9 365.5 116.7 365.8" fill="none" stroke="#4a4a4a" stroke-width="1.1" stroke-linecap="round" stroke-linejoin="round" />
<path d="M116.7 365.8 C116.5 367.3 116.2 372.4 115.8 375 C115.4 377.6 114 379.5 114.2 381.7 C114.4 383.9 114.9 385.8 116.7 388.3 C118.5 390.8 121.1 393.9 125 396.7 C128.9 399.5 135.3 403.1 140 405 C144.7 406.9 148.3 408.3 153.3 408.3 C158.3 408.3 163.3 407.8 170 405 C176.7 402.2 185.5 396.1 193.3 391.7 C201.1 387.2 207.2 382.5 216.7 378.3 C226.1 374.1 244.4 368.6 250 366.7" fill="none" stroke="#4a4a4a" stroke-width="1.1" stroke-linecap="round" stroke-linejoin="round" />
<path d="M143 307 C141.3 309.2 136.1 315.3 133 320 C129.9 324.7 126.9 330.5 124.2 335 C121.5 339.5 119 343.2 117 347 C115 350.8 112.9 355.1 112.5 357.5 C112.1 359.9 114.2 360.8 114.5 361.5" fill="none" stroke="#4a4a4a" stroke-width="0.9" stroke-linecap="round" stroke-linejoin="round" />
<path d="M136 312 L139 314.5" fill="none" stroke="#4a4a4a" stroke-width="0.8" stroke-linecap="round" stroke-linejoin="round" />
<path d="M128 323 L131 325.5" fill="none" stroke="#4a4a4a" stroke-width="0.8" stroke-linecap="round" stroke-linejoin="round" />
<path d="M144.5 301 L139 303 L134 309.5 L136 312" fill="none" stroke="#4a4a4a" stroke-width="1.0" stroke-linecap="round" stroke-linejoin="round" />
<path d="M131 316 L126.5 322 L128 323" fill="none" stroke="#4a4a4a" stroke-width="1.0" stroke-linecap="round" stroke-linejoin="round" />
<path d="M124 328 L120 334.5 L122 336" fill="none" stroke="#4a4a4a" stroke-width="1.0" stroke-linecap="round" stroke-linejoin="round" />
<path d="M124.2 341.7 C123.8 343.9 121.3 350.3 121.7 355 C122.1 359.7 126.2 366.7 126.7 370 C127.2 373.3 123.9 372.2 125 375 C126.1 377.8 129.1 383.4 133.3 386.7 C137.5 390 144.7 393.1 150 395 C155.3 396.9 162.5 397.8 165 398.3" fill="none" stroke="#4a4a4a" stroke-width="1.0" stroke-linecap="round" stroke-linejoin="round" />
<path d="M165 398.3 C167.5 396.1 174.2 389.4 180 385 C185.8 380.6 194.2 377.2 200 371.7 C205.8 366.1 212.5 355 215 351.7" fill="none" stroke="#4a4a4a" stroke-width="1.0" stroke-linecap="round" stroke-linejoin="round" />
<path d="M116 373 L122 381 L131.7 390.8 L150 396.5 L163.3 400" fill="none" stroke="#4a4a4a" stroke-width="0.9" stroke-linecap="round" stroke-linejoin="round" />
<path d="M115.5 377.5 L121 385.5 L130 394.2 L148 400.5 L161.7 403.3" fill="none" stroke="#4a4a4a" stroke-width="0.9" stroke-linecap="round" stroke-linejoin="round" />
<path d="M117 369.5 L124 378 L133 387.5 L150 393 L165 396.5" fill="none" stroke="#4a4a4a" stroke-width="0.8" stroke-linecap="round" stroke-linejoin="round" />
<path d="M164 402 C166.7 400.3 174 396 180 392 C186 388 196.7 380.3 200 378" fill="none" stroke="#4a4a4a" stroke-width="0.9" stroke-linecap="round" stroke-linejoin="round" />
<path d="M153.3 408.3 L160 401 L165 398.3" fill="none" stroke="#4a4a4a" stroke-width="0.9" stroke-linecap="round" stroke-linejoin="round" />
<path d="M160 407 L168 399" fill="none" stroke="#4a4a4a" stroke-width="0.8" stroke-linecap="round" stroke-linejoin="round" />
<path d="M220 349 L215 351 L214 356 L202 369" fill="none" stroke="#4a4a4a" stroke-width="1.0" stroke-linecap="round" stroke-linejoin="round" />
<path d="M245 334 C243.7 335.7 239 341.2 237 344 C235 346.8 235 349 233 351 C231 353 229.8 353 225 356 C220.2 359 207.5 366.8 204 369" fill="none" stroke="#4a4a4a" stroke-width="1.3" stroke-linecap="round" stroke-linejoin="round" />
<path d="M230 346.5 C229 347.6 227.8 349.4 224 353 C220.2 356.6 209.8 365.5 207 368" fill="none" stroke="#4a4a4a" stroke-width="0.9" stroke-linecap="round" stroke-linejoin="round" />
<path d="M247.5 331.7 C248.6 332.4 252.1 334.7 254 336 C255.9 337.3 258.2 338.9 259 339.5" fill="none" stroke="#4a4a4a" stroke-width="1.0" stroke-linecap="round" stroke-linejoin="round" />
<path d="M259 341 L264 348 L264.5 358 L259 364 L253 361 L255 347 L259 341" fill="none" stroke="#4a4a4a" stroke-width="1.1" stroke-linecap="round" stroke-linejoin="round" />
<path d="M258.5 339 L261.5 340.5" fill="none" stroke="#444" stroke-width="2.4" stroke-linecap="round" stroke-linejoin="round" />
<path d="M259 340 L242 347 L230 355 L203 369 L190 377" fill="none" stroke="#4a4a4a" stroke-width="1.1" stroke-linecap="round" stroke-linejoin="round" />
<path d="M255 347 L246 351 L238 354" fill="none" stroke="#4a4a4a" stroke-width="0.9" stroke-linecap="round" stroke-linejoin="round" />
<path d="M259 364 L228 377 L203 385 L180 392" fill="none" stroke="#4a4a4a" stroke-width="1.1" stroke-linecap="round" stroke-linejoin="round" />
<path d="M253 361 L228 376.5" fill="none" stroke="#4a4a4a" stroke-width="1.0" stroke-linecap="round" stroke-linejoin="round" />
<path d="M250 362.5 L236 367" fill="none" stroke="#4a4a4a" stroke-width="0.8" stroke-linecap="round" stroke-linejoin="round" />
<path d="M224 371.5 L227.5 363 L233 364.5 L234 365 L228.5 376" fill="none" stroke="#4a4a4a" stroke-width="1.0" stroke-linecap="round" stroke-linejoin="round" />
<path d="M227.5 363 L231 360.5 L236 362 L234 365" fill="none" stroke="#4a4a4a" stroke-width="0.9" stroke-linecap="round" stroke-linejoin="round" />
<path d="M232 356.5 L237 355.5 L240 358.5 L244 357 L247 354 L244 352.5" fill="none" stroke="#333" stroke-width="1.4" stroke-linecap="round" stroke-linejoin="round" />
<path d="M236 351 L241 349.5 L245 352" fill="none" stroke="#333" stroke-width="1.1" stroke-linecap="round" stroke-linejoin="round" />
<path d="M233 363 L236 365.5" fill="none" stroke="#333" stroke-width="1.6" stroke-linecap="round" stroke-linejoin="round" />
<path d="M215 369.5 L218.5 371.5" fill="none" stroke="#333" stroke-width="2.4" stroke-linecap="round" stroke-linejoin="round" />
<path d="M217.5 368.5 L216 372.5" fill="none" stroke="#333" stroke-width="1.6" stroke-linecap="round" stroke-linejoin="round" />
<path d="M224 371.5 L213 377 L206 374" fill="none" stroke="#4a4a4a" stroke-width="0.9" stroke-linecap="round" stroke-linejoin="round" />
<path d="M200 379 L203 376 L209 379 L205 384.5 L200 379" fill="none" stroke="#4a4a4a" stroke-width="0.9" stroke-linecap="round" stroke-linejoin="round" />
<path d="M209 379 L222 374" fill="none" stroke="#4a4a4a" stroke-width="0.9" stroke-linecap="round" stroke-linejoin="round" />
<path d="M196 383 L200 379" fill="none" stroke="#4a4a4a" stroke-width="0.9" stroke-linecap="round" stroke-linejoin="round" />
<path d="M194 380 L198 387" fill="none" stroke="#4a4a4a" stroke-width="0.9" stroke-linecap="round" stroke-linejoin="round" />
<path d="M203 369 L200 372 L204 375" fill="none" stroke="#333" stroke-width="1.2" stroke-linecap="round" stroke-linejoin="round" />
<path d="M190 377 L183 383 L176 392" fill="none" stroke="#4a4a4a" stroke-width="1.0" stroke-linecap="round" stroke-linejoin="round" />
<path d="M195 376 L190 384 L184 391" fill="none" stroke="#4a4a4a" stroke-width="0.9" stroke-linecap="round" stroke-linejoin="round" />
<path d="M186 389 L189 385 L191 389" fill="none" stroke="#333" stroke-width="1.0" stroke-linecap="round" stroke-linejoin="round" />
<path d="M294 159 C291.7 160.8 284.7 165.2 280 170 C275.3 174.8 270 182.5 266 188 C262 193.5 258.5 197.7 256 203 C253.5 208.3 252 213.8 251 220 C250 226.2 249.8 233.3 250 240 C250.2 246.7 251.2 255.2 252 260 C252.8 264.8 254 266.9 255 269 C256 271.1 257.5 271.9 258 272.5" fill="none" stroke="#6a6a6a" stroke-width="1.2" stroke-linecap="round" stroke-linejoin="round" />
<path d="M294 159 C294.3 160.2 294 163 296 166 C298 169 302 173.8 306 177 C310 180.2 314 182.5 320 185 C326 187.5 333.7 189.8 342 192 C350.3 194.2 362.7 196.5 370 198 C377.3 199.5 382 199.7 386 201 C390 202.3 392.3 204.2 394 206 C395.7 207.8 395.7 211 396 212" fill="none" stroke="#6a6a6a" stroke-width="1.2" stroke-linecap="round" stroke-linejoin="round" />
<path d="M396 212 C395.2 214.7 393 222.5 391 228 C389 233.5 385.2 242.2 384 245" fill="none" stroke="#6a6a6a" stroke-width="1.1" stroke-linecap="round" stroke-linejoin="round" />
<path d="M393 205 C390.5 207.5 382.5 215.5 378 220 C373.5 224.5 370 228.4 366 232 C362 235.6 356 239.9 354 241.5" fill="none" stroke="#6a6a6a" stroke-width="1.0" stroke-linecap="round" stroke-linejoin="round" />
<path d="M354 241.5 L357.5 243.5 L380 234 L390.7 230" fill="none" stroke="#6a6a6a" stroke-width="0.9" stroke-linecap="round" stroke-linejoin="round" />
<path d="M258 272.5 C261.7 272.6 273 273.2 280 273 C287 272.8 292.2 272.5 300 271.3 C307.8 270.1 319.1 267.7 326.7 266 C334.2 264.3 342.2 262.1 345.3 261.3" fill="none" stroke="#6a6a6a" stroke-width="1.1" stroke-linecap="round" stroke-linejoin="round" />
<path d="M257 271 C260.8 270.7 272.8 270.1 280 269.3 C287.2 268.5 292.2 268.1 300 266 C307.8 263.9 317.8 260.8 326.7 256.7 C335.6 252.6 348.9 243.9 353.3 241.3" fill="none" stroke="#6a6a6a" stroke-width="1.0" stroke-linecap="round" stroke-linejoin="round" />
<path d="M270 273.5 C275 272.8 289.7 270.5 300 269 C310.3 267.5 324.8 265.7 332 264.5 C339.2 263.3 341.2 262.4 343 262" fill="none" stroke="#6a6a6a" stroke-width="0.8" stroke-linecap="round" stroke-linejoin="round" />
<path d="M345.3 261.3 L319.3 288.7 L318.7 291.3 L337.3 292 L342.7 286 L353.3 272.7 L366.7 268.7 L372 262 L370.7 254 L377.3 247.3 L383.3 245.3 L381.3 243.3 L374.7 246 L360 259.3 L346.7 262" fill="none" stroke="#4a4a4a" stroke-width="1.0" stroke-linecap="round" stroke-linejoin="round" />
<path d="M322 288.5 L350 262.5" fill="none" stroke="#4a4a4a" stroke-width="0.9" stroke-linecap="round" stroke-linejoin="round" />
<path d="M326 289.5 L352 268 L362 261 L368 252" fill="none" stroke="#4a4a4a" stroke-width="0.9" stroke-linecap="round" stroke-linejoin="round" />
<path d="M335 283 L350 271 L364 266" fill="none" stroke="#4a4a4a" stroke-width="0.9" stroke-linecap="round" stroke-linejoin="round" />
<circle cx="332" cy="289" r="2.6" fill="#bbb" stroke="#4a4a4a" stroke-width="0.9"/>
<circle cx="338.5" cy="286" r="2.4" fill="#bbb" stroke="#4a4a4a" stroke-width="0.9"/>
<circle cx="362" cy="264" r="2.2" fill="#bbb" stroke="#4a4a4a" stroke-width="0.9"/>
<circle cx="368" cy="261.5" r="2.2" fill="#bbb" stroke="#4a4a4a" stroke-width="0.9"/>
<line x1="319" y1="290.5" x2="337" y2="291.5" stroke="#666" stroke-width="2"/>
<path d="M248.3 225.5 L246.5 232 L244.3 238 L242.8 241 L242.3 246.5" fill="none" stroke="#666" stroke-width="2.6" stroke-linecap="round" stroke-linejoin="round" />
<path d="M247 231 L246.3 237 L245 241.5 L244 244.5" fill="none" stroke="#555" stroke-width="1.6" stroke-linecap="round" stroke-linejoin="round" />
<text transform="translate(255.6 245.7) rotate(16.5) skewX(-8) scale(1.5 1)" font-size="13.2" font-weight="bold" fill="#2b2b2b" stroke="#2b2b2b" stroke-width="0.5">Hero</text>
<g transform="translate(314.3 149.7)">
<path d="M0 0 L2.4 11 L4 12.6 L8 12.6" fill="none" stroke="#3c3c3c" stroke-width="1.4" stroke-linecap="round" stroke-linejoin="round" />
<path d="M0 0 L9.4 -2.7 L16 0.3" fill="none" stroke="#3c3c3c" stroke-width="1.3" stroke-linecap="round" stroke-linejoin="round" />
<path d="M1 0.6 L10 -2" fill="none" stroke="#3c3c3c" stroke-width="0.8" stroke-linecap="round" stroke-linejoin="round" />
<path d="M0 0 L5 2.6 L16 0.3" fill="none" stroke="#3c3c3c" stroke-width="1.4" stroke-linecap="round" stroke-linejoin="round" />
<path d="M5 2.6 L7 12.3" fill="none" stroke="#3c3c3c" stroke-width="1.4" stroke-linecap="round" stroke-linejoin="round" />
<path d="M2.6 2.5 L4.6 11.5" fill="none" stroke="#777" stroke-width="0.8" stroke-linecap="round" stroke-linejoin="round" />
<path d="M16 0.3 C16.5 1.8 19.4 7.7 19 9.6 C18.6 11.5 14.9 10.6 13.7 11.6 C12.5 12.6 12 14.7 11.7 15.3" fill="none" stroke="#3c3c3c" stroke-width="1.5" stroke-linecap="round" stroke-linejoin="round" />
</g>
<g transform="translate(370 178.7)">
<path d="M0 0 L2.4 11 L4 12.6 L8 12.6" fill="none" stroke="#3c3c3c" stroke-width="1.4" stroke-linecap="round" stroke-linejoin="round" />
<path d="M0 0 L9.4 -2.7 L16 0.3" fill="none" stroke="#3c3c3c" stroke-width="1.3" stroke-linecap="round" stroke-linejoin="round" />
<path d="M1 0.6 L10 -2" fill="none" stroke="#3c3c3c" stroke-width="0.8" stroke-linecap="round" stroke-linejoin="round" />
<path d="M0 0 L5 2.6 L16 0.3" fill="none" stroke="#3c3c3c" stroke-width="1.4" stroke-linecap="round" stroke-linejoin="round" />
<path d="M5 2.6 L7 12.3" fill="none" stroke="#3c3c3c" stroke-width="1.4" stroke-linecap="round" stroke-linejoin="round" />
<path d="M2.6 2.5 L4.6 11.5" fill="none" stroke="#777" stroke-width="0.8" stroke-linecap="round" stroke-linejoin="round" />
<path d="M16 0.3 C16.5 1.8 19.4 7.7 19 9.6 C18.6 11.5 14.9 10.6 13.7 11.6 C12.5 12.6 12 14.7 11.7 15.3" fill="none" stroke="#3c3c3c" stroke-width="1.5" stroke-linecap="round" stroke-linejoin="round" />
</g>
<path d="M278 368 L308.7 366.7 L298 378.7 L274 396 L255.3 414.7 L246 429 L236 430 L240 418 L248 403 L260.7 388 Z" fill="#dedede" stroke="none"/>
<path d="M279 368.5 L307 367.2 L297 378.5 L284 387 L272 394 L262 393 L268 383 Z" fill="#a9a9a9"/>
<path d="M281 369 L304 368 L296 377 L283 383 L277 376 Z" fill="#8a8a8a"/>
<path d="M268 386 L280 381 L285 386 L272 395 L264 394 Z" fill="#9a9a9a"/>
<path d="M262 398 L272 394.5 L266 402 L259 404 Z" fill="#8f8f8f"/>
<path d="M256 400 L260 399 L257 404 Z" fill="#999"/>
<path d="M245 410 L250 407 L248 412 L251 414 L246 417 Z" fill="#999"/>
<path d="M240 418 L244 416 L243 422 L239 424 Z" fill="#aaa"/>
<path d="M249 419 L253 415 L254 418 L250 422 Z" fill="#bbb"/>
<path d="M229 431.5 L244.5 430.5 L248 427.5 L243 428.5 L232.5 429.5 Z" fill="#8a8a8a" stroke="#888" stroke-width="1.5"/>
<path d="M281.5 359 C279.2 361.8 272.8 370.2 268 376 C263.2 381.8 256.7 390 253 394 C249.3 398 248.5 397 246 400 C243.5 403 240.5 407.5 238 412 C235.5 416.5 232.2 424.5 231 427" fill="none" stroke="#a8a8a8" stroke-width="2.0" stroke-linecap="round" stroke-linejoin="round" />
<path d="M284 355.7 L316.7 357.3 L320 360" fill="none" stroke="#4a4a4a" stroke-width="1.1" stroke-linecap="round" stroke-linejoin="round" />
<path d="M320 360 C319 362.2 316.8 369.1 314 373.3 C311.2 377.5 308.2 381.3 303.3 385.3 C298.4 389.3 289.1 394.6 284.7 397.3 C280.3 400 278 400.6 276.7 401.3" fill="none" stroke="#4a4a4a" stroke-width="1.1" stroke-linecap="round" stroke-linejoin="round" />
<path d="M284 355.7 C281.7 358.6 275 367.2 270 373.3 C265 379.4 258.2 387.8 254 392 C249.8 396.2 247.6 395.6 244.7 398.7 C241.8 401.8 239.6 405.4 236.7 410.7 C233.8 416 229.1 426.3 227.3 430.7 C225.5 435.1 226.2 436.2 226 437.3" fill="none" stroke="#4a4a4a" stroke-width="1.1" stroke-linecap="round" stroke-linejoin="round" />
<path d="M226 437.3 C227.8 437.1 232.9 437.1 236.7 436 C240.5 434.9 244.3 434.7 248.7 430.7 C253.1 426.7 258.6 417.1 263.3 412 C268 406.9 273.1 402.4 276.7 400 C280.3 397.6 283.4 397.8 284.7 397.3" fill="none" stroke="#4a4a4a" stroke-width="1.1" stroke-linecap="round" stroke-linejoin="round" />
<path d="M280 361 C277.8 363.8 271.5 372.3 267 378 C262.5 383.7 256.1 391.6 253 395 C249.9 398.4 251.6 394.3 248.7 398.7 C245.8 403.1 238 416 235.3 421.3 C232.6 426.6 233.1 429.1 232.7 430.7" fill="none" stroke="#666" stroke-width="0.9" stroke-linecap="round" stroke-linejoin="round" />
<path d="M232.7 430.7 C234.5 430.5 239.8 431.8 243.3 429.3 C246.9 426.9 249.6 420.9 254 416 C258.4 411.1 264 405 270 400 C276 395 284.5 390.2 290 386 C295.5 381.8 299.3 379 303 375 C306.7 371 310.5 364.2 312 362" fill="none" stroke="#666" stroke-width="0.9" stroke-linecap="round" stroke-linejoin="round" />
<path d="M316 361 C314.8 362.8 311.7 368.7 309 372 C306.3 375.3 302.7 378.8 300 381 C297.3 383.2 294.2 384.3 293 385" fill="none" stroke="#4a4a4a" stroke-width="0.9" stroke-linecap="round" stroke-linejoin="round" />
<ellipse cx="292" cy="362" rx="5.2" ry="4.3" transform="rotate(20 292 362)" fill="#e6e6e6" stroke="#4a4a4a" stroke-width="1.0"/>
<ellipse cx="291" cy="362" rx="3" ry="2.6" transform="rotate(20 291 362)" fill="#c4c4c4" stroke="#777" stroke-width="0.8"/>
<path d="M234 438.7 L228.7 452 L236.7 452.7 L256.7 444 L274 433.3 L284.7 417.3 L283.3 414 L274 416 L263.3 421.3 L248.7 436" fill="none" stroke="#4a4a4a" stroke-width="1.1" stroke-linecap="round" stroke-linejoin="round" />
<path d="M236.7 452.7 L246 442.7 L260.7 425.3" fill="none" stroke="#4a4a4a" stroke-width="0.9" stroke-linecap="round" stroke-linejoin="round" />
<path d="M261.5 424 L252 433 L245 444 L251 441.5 L259.5 431 Z" fill="#5a5a5a" stroke="#666" stroke-width="1"/>
<path d="M252 440 C253.7 439 258.5 436.3 262 434 C265.5 431.7 269.8 428.8 273 426 C276.2 423.2 279.7 418.5 281 417" fill="none" stroke="#4a4a4a" stroke-width="0.8" stroke-linecap="round" stroke-linejoin="round" />
<ellipse cx="266.5" cy="411.5" rx="3" ry="4" transform="rotate(30 266.5 411.5)" fill="#eee" stroke="#4a4a4a" stroke-width="1.0"/>
<ellipse cx="266" cy="411.5" rx="1.6" ry="2.5" transform="rotate(30 266 411.5)" fill="none" stroke="#4a4a4a" stroke-width="0.8"/>
<path d="M262 415 C263 415.5 265.7 418.2 268 418 C270.3 417.8 274 416.2 276 414 C278 411.8 279.7 407.2 280 405 C280.3 402.8 278.3 401.7 278 401" fill="none" stroke="#4a4a4a" stroke-width="0.9" stroke-linecap="round" stroke-linejoin="round" />
<path d="M485.3 133.5 C485.8 135.7 487 141.7 488.1 146.8 C489.2 151.9 490.5 157.8 492.1 164 C493.7 170.2 495.7 178 497.5 184 C499.3 190 501.2 194 502.7 200 C504.2 206 505.3 214.7 506.7 220 C508.1 225.3 510.3 230 511 232" fill="none" stroke="#b0b0b0" stroke-width="2.6" stroke-linecap="round" stroke-linejoin="round" />
<path d="M484 132.7 C484.4 135 485.6 141.5 486.7 146.7 C487.8 151.9 489.1 157.8 490.7 164 C492.2 170.2 494.2 178 496 184 C497.8 190 499.8 194 501.3 200 C502.9 206 503.7 214.3 505.3 220 C506.9 225.7 509.8 231.7 510.7 234" fill="none" stroke="#3a3a3a" stroke-width="1.5" stroke-linecap="round" stroke-linejoin="round" />
<path d="M486.5 134 C487 136.2 488.3 142 489.5 147 C490.7 152 491.9 157.8 493.5 164 C495.1 170.2 497.2 178 499 184 C500.8 190 502.5 194 504 200 C505.5 206 506.8 214.8 508 220 C509.2 225.2 510.9 229.2 511.5 231" fill="none" stroke="#4a4a4a" stroke-width="0.9" stroke-linecap="round" stroke-linejoin="round" />
<path d="M484 132.7 C487.3 133.9 498.7 137.8 504 140 C509.3 142.2 513.1 143.8 516 146 C518.9 148.2 520.4 152.1 521.3 153.3" fill="none" stroke="#3a3a3a" stroke-width="1.4" stroke-linecap="round" stroke-linejoin="round" />
<path d="M521.3 153.3 L518.7 156 L523.3 159.3 L518.7 173.3 L515.3 178" fill="none" stroke="#4a4a4a" stroke-width="1.1" stroke-linecap="round" stroke-linejoin="round" />
<path d="M515.3 178 C515.6 179.9 516.7 185.6 517.3 189.3 C517.9 193 518.5 197.1 518.7 200 C518.9 202.9 518.9 201.1 518.7 206.7 C518.5 212.2 517.5 228.9 517.3 233.3" fill="none" stroke="#4a4a4a" stroke-width="1.2" stroke-linecap="round" stroke-linejoin="round" />
<path d="M517.3 233.3 L514 232 L510.7 234" fill="none" stroke="#4a4a4a" stroke-width="1.0" stroke-linecap="round" stroke-linejoin="round" />
<path d="M488.5 136.5 L506 143 L514 148 L519 156" fill="none" stroke="#4a4a4a" stroke-width="0.9" stroke-linecap="round" stroke-linejoin="round" />
<path d="M489 147 L500 151 L504 155 L514 152" fill="none" stroke="#4a4a4a" stroke-width="0.9" stroke-linecap="round" stroke-linejoin="round" />
<path d="M504 155 L509 160 L517 158" fill="none" stroke="#4a4a4a" stroke-width="0.9" stroke-linecap="round" stroke-linejoin="round" />
<path d="M490 151 C491.2 152 494.3 155.2 497 157 C499.7 158.8 503.3 160.5 506 162 C508.7 163.5 511.8 165.3 513 166" fill="none" stroke="#4a4a4a" stroke-width="1.0" stroke-linecap="round" stroke-linejoin="round" />
<path d="M491 157 C492 158 494.7 161.3 497 163 C499.3 164.7 502.5 165.7 505 167 C507.5 168.3 510.8 170.3 512 171" fill="none" stroke="#4a4a4a" stroke-width="1.0" stroke-linecap="round" stroke-linejoin="round" />
<path d="M513 166 L519 158" fill="none" stroke="#4a4a4a" stroke-width="0.9" stroke-linecap="round" stroke-linejoin="round" />
<path d="M513 166 L515 178" fill="none" stroke="#4a4a4a" stroke-width="0.9" stroke-linecap="round" stroke-linejoin="round" />
<path d="M512 171 L513 180 L515.5 195 L515.5 204" fill="none" stroke="#4a4a4a" stroke-width="0.9" stroke-linecap="round" stroke-linejoin="round" />
<ellipse cx="495" cy="140.5" rx="2" ry="1.2" transform="rotate(20 495 140.5)" fill="none" stroke="#4a4a4a" stroke-width="0.8"/>
<ellipse cx="506" cy="159" rx="2.2" ry="1.4" transform="rotate(35 506 159)" fill="none" stroke="#3a3a3a" stroke-width="1.2"/>
<ellipse cx="511.5" cy="162" rx="2.2" ry="1.4" transform="rotate(35 511.5 162)" fill="none" stroke="#3a3a3a" stroke-width="1.2"/>
<path d="M493 166 C493.8 167.8 496.5 173 498 177 C499.5 181 500.7 185.3 502 190 C503.3 194.7 504.8 199.7 506 205 C507.2 210.3 508.5 219.2 509 222" fill="none" stroke="#4a4a4a" stroke-width="0.9" stroke-linecap="round" stroke-linejoin="round" />
<path d="M498 176 C499 176.3 502.3 176.7 504 178 C505.7 179.3 507.3 183 508 184" fill="none" stroke="#4a4a4a" stroke-width="0.8" stroke-linecap="round" stroke-linejoin="round" />
<circle cx="508.7" cy="184.7" r="2.2" fill="none" stroke="#4a4a4a" stroke-width="0.9"/>
<circle cx="510.7" cy="196.7" r="2.2" fill="none" stroke="#4a4a4a" stroke-width="0.9"/>
<path d="M508 203 L518 204 L518 212 L512 213.5 L508 210" fill="none" stroke="#4a4a4a" stroke-width="0.9" stroke-linecap="round" stroke-linejoin="round" />
<circle cx="512.7" cy="208" r="2.4" fill="#ccc" stroke="#3a3a3a" stroke-width="1.4"/>
<circle cx="513.5" cy="215" r="0.8" fill="none" stroke="#888" stroke-width="0.7"/>
<circle cx="513.5" cy="219" r="0.8" fill="none" stroke="#888" stroke-width="0.7"/>
<circle cx="513.5" cy="223" r="0.8" fill="none" stroke="#888" stroke-width="0.7"/>
<path d="M510 213 L511 232" fill="none" stroke="#4a4a4a" stroke-width="0.8" stroke-linecap="round" stroke-linejoin="round" />
<path d="M516 212 L515.5 232" fill="none" stroke="#4a4a4a" stroke-width="0.8" stroke-linecap="round" stroke-linejoin="round" />
<path d="M790 219.2 C794.2 218.1 805.5 214.3 815 212.5 C824.5 210.7 841.4 209 846.7 208.3" fill="none" stroke="#3a3a3a" stroke-width="1.5" stroke-linecap="round" stroke-linejoin="round" />
<path d="M846.7 208.3 L848.3 210" fill="none" stroke="#3a3a3a" stroke-width="1.4" stroke-linecap="round" stroke-linejoin="round" />
<path d="M848.3 210 C847.5 212.8 845.5 221.1 843.3 226.7 C841.1 232.2 838.9 237.8 835 243.3 C831.1 248.9 824.7 254.7 820 260 C815.3 265.3 810.3 270 806.7 275 C803.1 280 800.9 285.6 798.3 290 C795.7 294.4 792 298.9 791 301.7 C790 304.5 791.3 305.6 792.5 306.7 C793.7 307.8 796.5 308.4 798.3 308.3 C800.1 308.2 802.5 306.2 803.3 305.8" fill="none" stroke="#3a3a3a" stroke-width="1.6" stroke-linecap="round" stroke-linejoin="round" />
<path d="M790 219.2 C791.7 219.9 797.5 221 800 223.3 C802.5 225.7 803.9 230 805 233.3 C806.1 236.6 805.6 239.4 806.7 243.3 C807.8 247.2 811.2 252.8 811.7 256.7 C812.2 260.6 811.4 262.8 810 266.7 C808.6 270.6 805.5 275.6 803.3 280 C801.1 284.4 797.8 291.1 796.7 293.3" fill="none" stroke="#4a4a4a" stroke-width="1.1" stroke-linecap="round" stroke-linejoin="round" />
<path d="M845 212 C844.2 214.3 842.2 221.2 840 226 C837.8 230.8 835.7 235.8 832 241 C828.3 246.2 822 252.5 818 257 C814 261.5 809.7 266.2 808 268" fill="none" stroke="#4a4a4a" stroke-width="0.9" stroke-linecap="round" stroke-linejoin="round" />
<path d="M817.5 264.2 C816 268.5 810.8 283.2 808.3 290 C805.8 296.8 803.5 302.5 802.5 305" fill="none" stroke="#4a4a4a" stroke-width="0.9" stroke-linecap="round" stroke-linejoin="round" />
<path d="M798.5 305 L800 303 L803 303.5" fill="none" stroke="#4a4a4a" stroke-width="0.9" stroke-linecap="round" stroke-linejoin="round" />
<ellipse cx="831.7" cy="215" rx="4" ry="2.4" transform="rotate(-8 831.7 215)" fill="none" stroke="#4a4a4a" stroke-width="0.9"/>
<path d="M793 220 L803 218 L808 222 L812 221 L815 226 L822 224" fill="none" stroke="#4a4a4a" stroke-width="0.9" stroke-linecap="round" stroke-linejoin="round" />
<path d="M803 218 L806 225 L812 228 L818 227" fill="none" stroke="#4a4a4a" stroke-width="0.9" stroke-linecap="round" stroke-linejoin="round" />
<path d="M822 224 C823.7 223.5 828.7 221.8 832 221 C835.3 220.2 840.3 219.3 842 219" fill="none" stroke="#4a4a4a" stroke-width="0.9" stroke-linecap="round" stroke-linejoin="round" />
<path d="M808 233 L818 229 L824 231 L828 229" fill="none" stroke="#4a4a4a" stroke-width="0.9" stroke-linecap="round" stroke-linejoin="round" />
<path d="M808 235.5 L819 231.5" fill="none" stroke="#4a4a4a" stroke-width="0.9" stroke-linecap="round" stroke-linejoin="round" />
<ellipse cx="809.5" cy="234.5" rx="1.4" ry="1" transform="rotate(0 809.5 234.5)" fill="none" stroke="#3a3a3a" stroke-width="1.2"/>
<path d="M820 228 L826 235 L832 233 L838 231" fill="none" stroke="#4a4a4a" stroke-width="0.9" stroke-linecap="round" stroke-linejoin="round" />
<path d="M826 235 L830 240 L836 238" fill="none" stroke="#4a4a4a" stroke-width="0.9" stroke-linecap="round" stroke-linejoin="round" />
<path d="M812 236 C813.3 236.7 818 238.3 820 240 C822 241.7 824.3 243.7 824 246 C823.7 248.3 820 251.3 818 254 C816 256.7 813 260.7 812 262" fill="none" stroke="#4a4a4a" stroke-width="0.9" stroke-linecap="round" stroke-linejoin="round" />
<path d="M822 226 L820 232" fill="none" stroke="#4a4a4a" stroke-width="0.8" stroke-linecap="round" stroke-linejoin="round" />
<path d="M568.3 178.2 L575 180.3 L574.5 184.3 L567.8 182.2Z" fill="#fff" stroke="#3c3c3c" stroke-width="1.17" stroke-linecap="round" stroke-linejoin="round" />
<ellipse cx="568" cy="180.2" rx="1.3" ry="2.1" transform="rotate(-15 568 180.2)" fill="#fff" stroke="#3c3c3c" stroke-width="1.04"/>
<path d="M580.4 173.2 L577 177 L575.3 182 L576.3 194.8 L580.4 197.7 L581.6 189.5 L582.8 180 L582.8 175.5 L580.4 173.2" fill="none" stroke="#333" stroke-width="1.69" stroke-linecap="round" stroke-linejoin="round" />
<path d="M578.8 177.5 L578 183 L578.8 194 L580.4 197.7" fill="none" stroke="#3c3c3c" stroke-width="1.17" stroke-linecap="round" stroke-linejoin="round" />
<path d="M582.2 188.3 C582.6 190.2 583.3 196.5 584.5 200 C585.7 203.5 586.9 206.2 589.2 209.3 C591.5 212.4 595 216.2 598.5 218.7 C602 221.2 607 223.2 610.2 224.5 C613.5 225.8 616.7 225.9 618 226.2" fill="none" stroke="#333" stroke-width="1.56" stroke-linecap="round" stroke-linejoin="round" />
<path d="M585.1 184.8 C585.8 187.1 587.6 195.1 589.2 198.8 C590.9 202.5 592.5 204.3 595 207 C597.5 209.7 600.8 212.7 604.3 215.2 C607.8 217.7 613 220.8 616 222.2 C619 223.6 621 223.3 622 223.5" fill="none" stroke="#333" stroke-width="1.56" stroke-linecap="round" stroke-linejoin="round" />
<path d="M588 210.5 L591 208 L599.5 217 L597 220" fill="none" stroke="#3c3c3c" stroke-width="1.17" stroke-linecap="round" stroke-linejoin="round" />
<path d="M587.2 202.5 L591.5 200.5" fill="none" stroke="#3c3c3c" stroke-width="1.04" stroke-linecap="round" stroke-linejoin="round" />
<path d="M596.5 214.5 L599 211.5" fill="none" stroke="#3c3c3c" stroke-width="1.04" stroke-linecap="round" stroke-linejoin="round" />
<path d="M584 183.5 L589.5 187" fill="none" stroke="#3c3c3c" stroke-width="1.43" stroke-linecap="round" stroke-linejoin="round" />
<path d="M586.3 193.5 L590 195.3" fill="none" stroke="#3c3c3c" stroke-width="1.43" stroke-linecap="round" stroke-linejoin="round" />
<path d="M587.5 186 L588.5 194" fill="none" stroke="#3c3c3c" stroke-width="1.17" stroke-linecap="round" stroke-linejoin="round" />
<ellipse cx="597.3" cy="192.4" rx="7.6" ry="4.9" transform="rotate(17 597.3 192.4)" fill="none" stroke="#333" stroke-width="1.82"/>
<ellipse cx="597.3" cy="192.4" rx="3.6" ry="1.9" transform="rotate(17 597.3 192.4)" fill="none" stroke="#333" stroke-width="1.82"/>
<path d="M600.8 230.8 L630 220.8 L638.3 219.2 L653.3 224.8 L713.6 245 L685 252.5" fill="none" stroke="#3a3a3a" stroke-width="1.69" stroke-linecap="round" stroke-linejoin="round" />
<path d="M685 252.5 C683.8 252.2 680 250.9 678 250.5 C676 250.1 675 249.8 673.3 250 C671.6 250.2 670.2 251.5 668 251.5 C665.8 251.5 663.3 250.4 660 250 C656.7 249.6 651.6 249.7 648.3 249.2 C645 248.7 642.8 248 640 247 C637.2 246 633.1 243.9 631.7 243.3" fill="none" stroke="#3a3a3a" stroke-width="1.56" stroke-linecap="round" stroke-linejoin="round" />
<path d="M631.7 243.3 L606.7 233.5 L600.8 230.8" fill="none" stroke="#3a3a3a" stroke-width="1.69" stroke-linecap="round" stroke-linejoin="round" />
<path d="M603.5 229.3 L632 222.8 L640 221.5" fill="none" stroke="#4a4a4a" stroke-width="1.17" stroke-linecap="round" stroke-linejoin="round" />
<ellipse cx="628.3" cy="227.5" rx="3.2" ry="1.3" transform="rotate(12 628.3 227.5)" fill="#333" stroke="#333" stroke-width="1.3"/>
<ellipse cx="635.5" cy="241.3" rx="3.2" ry="1.3" transform="rotate(12 635.5 241.3)" fill="#333" stroke="#333" stroke-width="1.3"/>
<ellipse cx="690" cy="245.8" rx="3.4" ry="1.3" transform="rotate(12 690 245.8)" fill="#333" stroke="#333" stroke-width="1.3"/>
<ellipse cx="606.7" cy="231.3" rx="2.8" ry="1.1" transform="rotate(12 606.7 231.3)" fill="#555" stroke="#333" stroke-width="1.3"/>
<path d="M654 224 L654.5 218.5 L658 216 L662.5 217.5 L662 226.5" fill="none" stroke="#4a4a4a" stroke-width="1.43" stroke-linecap="round" stroke-linejoin="round" />
<ellipse cx="658.5" cy="221" rx="1.4" ry="2.2" transform="rotate(10 658.5 221)" fill="none" stroke="#4a4a4a" stroke-width="1.17"/>
<path d="M640 221.5 L644 220.5 L654 224" fill="none" stroke="#4a4a4a" stroke-width="1.17" stroke-linecap="round" stroke-linejoin="round" />
<path d="M645 223 L650 222 L654 225" fill="none" stroke="#4a4a4a" stroke-width="1.04" stroke-linecap="round" stroke-linejoin="round" />
<path d="M715 243 L716 236.5 L720 234.5 L725 236.5 L724 245" fill="none" stroke="#333" stroke-width="1.95" stroke-linecap="round" stroke-linejoin="round" />
<ellipse cx="720.5" cy="239.5" rx="2" ry="1.5" transform="rotate(0 720.5 239.5)" fill="none" stroke="#4a4a4a" stroke-width="1.17"/>
<path d="M715.5 246.5 L727 244 L727.5 250 L722 252.5" fill="none" stroke="#333" stroke-width="1.95" stroke-linecap="round" stroke-linejoin="round" />
<path d="M718 240 L723 241.5 L722 246" fill="none" stroke="#333" stroke-width="1.56" stroke-linecap="round" stroke-linejoin="round" />
<path d="M608.3 236.7 L608.3 250 L615 252.5 L617.5 250 L621.7 243.3" fill="none" stroke="#4a4a4a" stroke-width="1.43" stroke-linecap="round" stroke-linejoin="round" />
<path d="M611 248 L611 242 L615 243 L615 249" fill="none" stroke="#4a4a4a" stroke-width="1.17" stroke-linecap="round" stroke-linejoin="round" />
<path d="M621.7 243.3 L624 250 L630 254 L636 254" fill="none" stroke="#4a4a4a" stroke-width="1.43" stroke-linecap="round" stroke-linejoin="round" />
<path d="M626 243 L631 250.5 L636 250" fill="none" stroke="#333" stroke-width="1.82" stroke-linecap="round" stroke-linejoin="round" />
<path d="M630 244 L634 250" fill="none" stroke="#333" stroke-width="1.82" stroke-linecap="round" stroke-linejoin="round" />
<path d="M618 240 L620 247 L624 248" fill="none" stroke="#4a4a4a" stroke-width="1.17" stroke-linecap="round" stroke-linejoin="round" />
<path d="M628.5 243.5 L634.5 252.5" fill="none" stroke="#222" stroke-width="2.86" stroke-linecap="round" stroke-linejoin="round" />
<path d="M631.5 245 L638 254.5" fill="none" stroke="#222" stroke-width="2.86" stroke-linecap="round" stroke-linejoin="round" />
<path d="M609.5 245.5 L616.5 246.5 L616 252 L610 251 Z" fill="#666" stroke="#333" stroke-width="1"/>
<path d="M608.3 236.7 L608.3 250" fill="none" stroke="#333" stroke-width="1.95" stroke-linecap="round" stroke-linejoin="round" />
<path d="M634.5 254 L632.7 293.3 L633.8 297.5" fill="none" stroke="#4a4a4a" stroke-width="1.43" stroke-linecap="round" stroke-linejoin="round" />
<path d="M640 262 L638.7 292.5 L640.5 296.5" fill="none" stroke="#4a4a4a" stroke-width="1.43" stroke-linecap="round" stroke-linejoin="round" />
<path d="M636 250 L644.2 251 L644.2 261.7 L640 262" fill="none" stroke="#4a4a4a" stroke-width="1.43" stroke-linecap="round" stroke-linejoin="round" />
<path d="M644.2 251 L652 246.5" fill="none" stroke="#4a4a4a" stroke-width="1.17" stroke-linecap="round" stroke-linejoin="round" />
<path d="M635 300 L632.5 304 L637 313.5 L645.5 314.5 L649 308 L646 301" fill="none" stroke="#4a4a4a" stroke-width="1.43" stroke-linecap="round" stroke-linejoin="round" />
<circle cx="641.5" cy="307.5" r="4.8" fill="none" stroke="#4a4a4a" stroke-width="1.43"/>
<circle cx="641.5" cy="307.5" r="3" fill="none" stroke="#4a4a4a" stroke-width="1.17"/>
<path d="M631 303 L634 300" fill="none" stroke="#333" stroke-width="1.95" stroke-linecap="round" stroke-linejoin="round" />
<path d="M643 314.5 L646.5 315.5" fill="none" stroke="#333" stroke-width="1.95" stroke-linecap="round" stroke-linejoin="round" />
<path d="M640 296.5 C641.2 297.2 644.8 299.5 647 301 C649.2 302.5 648.9 304 653.3 305.5 C657.7 307 668 308.9 673.3 310 C678.6 311.1 679.5 311.1 685 312 C690.5 312.9 702.5 314.9 706 315.5" fill="none" stroke="#4a4a4a" stroke-width="1.43" stroke-linecap="round" stroke-linejoin="round" />
<path d="M646 303 C647 304 647.7 307.2 652 309 C656.3 310.8 666.5 312.8 672 314 C677.5 315.2 679.2 315.1 685 316 C690.8 316.9 703.1 318.9 706.7 319.5" fill="none" stroke="#4a4a4a" stroke-width="1.43" stroke-linecap="round" stroke-linejoin="round" />
<path d="M671.7 314 L671.7 326.5 L673 328 L675.5 328 L676.7 326.5 L676.7 315" fill="#fff" stroke="#3c3c3c" stroke-width="1.43" stroke-linecap="round" stroke-linejoin="round" />
<path d="M715 328 L715 339 L716.3 340.5 L718.8 340.5 L720 339 L720 328" fill="#fff" stroke="#3c3c3c" stroke-width="1.43" stroke-linecap="round" stroke-linejoin="round" />
<path d="M706 315.5 C707 315.6 709.9 315.4 712 316 C714.1 316.6 717.2 317 718.5 319 C719.8 321 719.8 326.5 720 328" fill="none" stroke="#4a4a4a" stroke-width="1.43" stroke-linecap="round" stroke-linejoin="round" />
<path d="M706.7 319.5 C707.6 319.9 710.6 320.6 712 322 C713.4 323.4 714.5 327 715 328" fill="none" stroke="#4a4a4a" stroke-width="1.43" stroke-linecap="round" stroke-linejoin="round" />
<path d="M711.5 255 L709.5 316" fill="none" stroke="#4a4a4a" stroke-width="1.43" stroke-linecap="round" stroke-linejoin="round" />
<path d="M718.3 256 L716 317" fill="none" stroke="#4a4a4a" stroke-width="1.43" stroke-linecap="round" stroke-linejoin="round" />
<path d="M701 255 L699 273 L706.5 273.8 L709.5 259.5 L709.5 251.5" fill="none" stroke="#333" stroke-width="1.95" stroke-linecap="round" stroke-linejoin="round" />
<path d="M698.5 255.5 L696.8 272 L699 273" fill="none" stroke="#4a4a4a" stroke-width="1.3" stroke-linecap="round" stroke-linejoin="round" />
<ellipse cx="704.5" cy="267" rx="1.6" ry="2.2" transform="rotate(15 704.5 267)" fill="none" stroke="#333" stroke-width="1.69"/>
<path d="M686.7 256 L713.3 249" fill="none" stroke="#4a4a4a" stroke-width="1.43" stroke-linecap="round" stroke-linejoin="round" />
<path d="M685 252.5 L712.5 245.8" fill="none" stroke="#4a4a4a" stroke-width="1.43" stroke-linecap="round" stroke-linejoin="round" />
<path d="M685 252.5 L685.6 256.3" fill="none" stroke="#333" stroke-width="1.82" stroke-linecap="round" stroke-linejoin="round" />
<path d="M714 253.3 L744 259" fill="none" stroke="#4a4a4a" stroke-width="1.43" stroke-linecap="round" stroke-linejoin="round" />
<path d="M718 258 L743.5 263.2" fill="none" stroke="#4a4a4a" stroke-width="1.43" stroke-linecap="round" stroke-linejoin="round" />
<path d="M720 268 L741 262.5 L741.5 285 L739 287.5 L734 288 L730 285 L730 280 L725 278.5 L724 281 L718.5 280 L718 271" fill="none" stroke="#4a4a4a" stroke-width="1.56" stroke-linecap="round" stroke-linejoin="round" />
<path d="M721 271.2 L740 266" fill="none" stroke="#4a4a4a" stroke-width="1.3" stroke-linecap="round" stroke-linejoin="round" />
<path d="M718 271 L720 268" fill="none" stroke="#4a4a4a" stroke-width="1.3" stroke-linecap="round" stroke-linejoin="round" />
<path d="M731 283 L738.5 282.5 L739.5 285.5 L737.5 287.5 L733.5 287.5 L731 285.5 Z" fill="#9a9a9a" stroke="#555" stroke-width="0.8"/>
<path d="M744 259 C745.3 258.7 749.3 257.8 752 257 C754.7 256.2 757.7 254.8 760 254 C762.3 253.2 765 252.3 766 252" fill="none" stroke="#4a4a4a" stroke-width="1.43" stroke-linecap="round" stroke-linejoin="round" />
<path d="M743.5 263.2 C744.9 263 749.2 262.6 752 262 C754.8 261.4 757.5 260.7 760 259.5 C762.5 258.3 765.8 255.8 767 255" fill="none" stroke="#4a4a4a" stroke-width="1.43" stroke-linecap="round" stroke-linejoin="round" />
<path d="M747 262.5 L748 259" fill="none" stroke="#4a4a4a" stroke-width="1.04" stroke-linecap="round" stroke-linejoin="round" />
<path d="M752 261.5 L753 257.5" fill="none" stroke="#4a4a4a" stroke-width="1.04" stroke-linecap="round" stroke-linejoin="round" />
<path d="M757 260 L758 255.5" fill="none" stroke="#4a4a4a" stroke-width="1.04" stroke-linecap="round" stroke-linejoin="round" />
<path d="M762 258 L762.5 253.5" fill="none" stroke="#4a4a4a" stroke-width="1.04" stroke-linecap="round" stroke-linejoin="round" />
<path d="M762.7 227 L756 232 L756.7 240 L760.7 250 L764 252.3 L766.7 251.3 L770.3 247.3 L767.3 239.5" fill="none" stroke="#333" stroke-width="2.08" stroke-linecap="round" stroke-linejoin="round" />
<path d="M762.7 227 L765 230 L765.3 234.5" fill="none" stroke="#333" stroke-width="2.08" stroke-linecap="round" stroke-linejoin="round" />
<ellipse cx="753" cy="237" rx="2.9" ry="4.6" transform="rotate(-18 753 237)" fill="none" stroke="#333" stroke-width="1.95"/>
<path d="M754.5 233 L756.5 241.5" fill="none" stroke="#333" stroke-width="1.56" stroke-linecap="round" stroke-linejoin="round" />
<path d="M758.5 233.8 L767.8 235.5 L769.4 237.6 L768.3 240.4 L758.3 238.6Z" fill="#fff" stroke="#333" stroke-width="1.69" stroke-linecap="round" stroke-linejoin="round" />
<ellipse cx="768.2" cy="237.9" rx="1.2" ry="2.5" transform="rotate(-12 768.2 237.9)" fill="none" stroke="#333" stroke-width="1.43"/>
<path d="M589.5 294.5 L596 290.5 L597.5 293.5 L591 297.5Z" fill="#fff" stroke="#3c3c3c" stroke-width="1.3" stroke-linecap="round" stroke-linejoin="round" />
<line x1="596" y1="292.3" x2="626" y2="274.5" stroke="#6a6a6a" stroke-width="4.2"/>
<line x1="596" y1="292.3" x2="626" y2="274.5" stroke="#2a2a2a" stroke-width="4.2" stroke-dasharray="0.8 0.8"/>
<path d="M625.5 273 L633 269 L634.5 272 L627 276.5Z" fill="#fff" stroke="#3c3c3c" stroke-width="1.3" stroke-linecap="round" stroke-linejoin="round" />
<line x1="681" y1="311.5" x2="706" y2="299.5" stroke="#6a6a6a" stroke-width="4.2"/>
<line x1="681" y1="311.5" x2="706" y2="299.5" stroke="#2a2a2a" stroke-width="4.2" stroke-dasharray="0.8 0.8"/>
<path d="M705.5 298 L714 294 L715 297 L707 301.5Z" fill="#fff" stroke="#3c3c3c" stroke-width="1.3" stroke-linecap="round" stroke-linejoin="round" />
<path d="M677 314 L681.5 309 L684 313 L679.5 317" fill="none" stroke="#333" stroke-width="1.95" stroke-linecap="round" stroke-linejoin="round" />
<line x1="694.5" y1="327.5" x2="703" y2="323" stroke="#6a6a6a" stroke-width="3.6"/>
<line x1="694.5" y1="327.5" x2="703" y2="323" stroke="#2a2a2a" stroke-width="3.6" stroke-dasharray="0.8 0.8"/>
<path d="M699 317 L706 321 L708.5 326 L703.5 322" fill="none" stroke="#4a4a4a" stroke-width="1.3" stroke-linecap="round" stroke-linejoin="round" />
<path d="M692 317 L696 327" fill="none" stroke="#4a4a4a" stroke-width="1.17" stroke-linecap="round" stroke-linejoin="round" />
<ellipse cx="504.2" cy="299.2" rx="8.3" ry="4.3" transform="rotate(8 504.2 299.2)" fill="none" stroke="#4a4a4a" stroke-width="1.1"/>
<ellipse cx="504.5" cy="299.2" rx="5.2" ry="2.3" transform="rotate(8 504.5 299.2)" fill="none" stroke="#4a4a4a" stroke-width="1.0"/>
<path d="M498 302.5 C499.2 303.4 502.9 305.8 505 308 C507.1 310.2 509.3 313.2 510.5 316 C511.7 318.8 512.2 322.3 512.3 325 C512.4 327.7 511.4 329.6 511.3 332 C511.2 334.4 511.2 336.9 511.6 339.2 C512 341.5 512.6 344.2 513.4 345.6 C514.2 347 515.7 347.1 516.2 347.4" fill="none" stroke="#4a4a4a" stroke-width="1.1" stroke-linecap="round" stroke-linejoin="round" />
<path d="M511.5 300.5 C512.2 301.8 514.7 305.2 516 308 C517.3 310.8 518.8 314 519.5 317 C520.2 320 520.5 323.5 520.3 326 C520.1 328.5 518.8 330.3 518.4 332 C518 333.7 517.8 334.6 518 336.4 C518.2 338.2 519.4 341.4 519.9 342.8 C520.4 344.2 520.6 344.4 520.8 344.7" fill="none" stroke="#4a4a4a" stroke-width="1.1" stroke-linecap="round" stroke-linejoin="round" />
<path d="M511.6 336.6 C512.2 336.4 513.9 335.6 515 335.6 C516.1 335.6 517.5 336.3 518 336.4" fill="none" stroke="#4a4a4a" stroke-width="0.9" stroke-linecap="round" stroke-linejoin="round" />
<path d="M519.9 336.9 L528.1 339.2 L530.9 337.8 L533.6 339.8 L531.5 343.8 L521.7 343.8" fill="none" stroke="#4a4a4a" stroke-width="1.0" stroke-linecap="round" stroke-linejoin="round" />
<ellipse cx="531.5" cy="341.5" rx="1.2" ry="2" transform="rotate(0 531.5 341.5)" fill="none" stroke="#4a4a4a" stroke-width="0.8"/>
<path d="M520.8 344.7 L552 357.5" fill="none" stroke="#4a4a4a" stroke-width="1.1" stroke-linecap="round" stroke-linejoin="round" />
<path d="M517.1 349.7 L543.7 361.6" fill="none" stroke="#4a4a4a" stroke-width="1.1" stroke-linecap="round" stroke-linejoin="round" />
<path d="M492.5 354.2 L511.7 347.5 L520.8 350.8 L508.3 356.7 L496.7 356.3Z" fill="#fff" stroke="#4a4a4a" stroke-width="1.1" stroke-linecap="round" stroke-linejoin="round" />
<path d="M492.5 354.2 L493 356 L497 358 L508.5 358.5 L520.8 352.5 L520.8 350.8" fill="none" stroke="#4a4a4a" stroke-width="1.0" stroke-linecap="round" stroke-linejoin="round" />
<ellipse cx="508.5" cy="352.2" rx="2.6" ry="1.1" transform="rotate(-15 508.5 352.2)" fill="#777" stroke="#333" stroke-width="1.2"/>
<ellipse cx="499.5" cy="354.5" rx="2.4" ry="1.1" transform="rotate(-10 499.5 354.5)" fill="#666" stroke="#333" stroke-width="1.2"/>
<ellipse cx="518.8" cy="351.2" rx="1.6" ry="1.4" transform="rotate(0 518.8 351.2)" fill="#666" stroke="#333" stroke-width="1.2"/>
<path d="M529.2 370 L543.3 363.3 L554.2 365 L538.3 373.3 L531.7 372.5Z" fill="#fff" stroke="#4a4a4a" stroke-width="1.1" stroke-linecap="round" stroke-linejoin="round" />
<path d="M529.2 370 L530 372.5 L532 374.5 L538.5 375 L554.2 367 L554.2 365" fill="none" stroke="#4a4a4a" stroke-width="1.0" stroke-linecap="round" stroke-linejoin="round" />
<ellipse cx="541.5" cy="368.8" rx="2.5" ry="1.1" transform="rotate(-18 541.5 368.8)" fill="#777" stroke="#333" stroke-width="1.2"/>
<ellipse cx="534" cy="371" rx="2.4" ry="1.2" transform="rotate(-10 534 371)" fill="#666" stroke="#333" stroke-width="1.2"/>
<ellipse cx="545.5" cy="363.5" rx="1.8" ry="1.2" transform="rotate(0 545.5 363.5)" fill="#666" stroke="#333" stroke-width="1.2"/>
<path d="M545 362.5 L543.3 363.3" fill="none" stroke="#4a4a4a" stroke-width="1.0" stroke-linecap="round" stroke-linejoin="round" />
<path d="M556.7 357.5 C557.8 357.1 560.8 357.1 563.3 355 C565.8 352.9 568.8 347.7 571.7 345 C574.6 342.3 576.1 340.1 580.7 338.7 C585.3 337.3 596.2 337 599.3 336.7" fill="none" stroke="#4a4a4a" stroke-width="1.1" stroke-linecap="round" stroke-linejoin="round" />
<path d="M554.2 365.8 C556.3 365.1 563.4 363.8 566.7 361.7 C570 359.6 571.2 356 574 353.3 C576.8 350.6 579.1 347 583.3 345.3 C587.5 343.6 596.6 343.6 599.3 343.3" fill="none" stroke="#4a4a4a" stroke-width="1.1" stroke-linecap="round" stroke-linejoin="round" />
<path d="M552 356 L550 363.5" fill="none" stroke="#4a4a4a" stroke-width="1.0" stroke-linecap="round" stroke-linejoin="round" />
<path d="M556 350.5 L558 348.5 L560.5 349.5 L561 353 L559.5 356" fill="none" stroke="#4a4a4a" stroke-width="0.9" stroke-linecap="round" stroke-linejoin="round" />
<path d="M556 350.5 L556.5 355.5" fill="none" stroke="#4a4a4a" stroke-width="0.9" stroke-linecap="round" stroke-linejoin="round" />
<path d="M600 335.3 L612.7 334 L614 337.3 L610 343.3 L601.3 343.7Z" fill="#fff" stroke="#4a4a4a" stroke-width="1.1" stroke-linecap="round" stroke-linejoin="round" />
<ellipse cx="609.7" cy="338.7" rx="2.6" ry="1.9" transform="rotate(-30 609.7 338.7)" fill="#888" stroke="#444" stroke-width="1.0"/>
<path d="M600 335.3 L598.5 339 L601.3 343.7" fill="none" stroke="#4a4a4a" stroke-width="1.0" stroke-linecap="round" stroke-linejoin="round" />
<path d="M478.5 308 L482 313 L485.5 313 L487 310 L484 305.5" fill="#fff" stroke="#4a4a4a" stroke-width="1.0" stroke-linecap="round" stroke-linejoin="round" />
<ellipse cx="477.5" cy="306.7" rx="6.4" ry="3.4" transform="rotate(-20 477.5 306.7)" fill="#fff" stroke="#4a4a4a" stroke-width="1.1"/>
<ellipse cx="477.5" cy="306.5" rx="3.6" ry="1.7" transform="rotate(-20 477.5 306.5)" fill="none" stroke="#4a4a4a" stroke-width="0.9"/>
<path d="M602 371.5 L596.5 370.5 L594.5 373 L596 377 L601 379.5" fill="#fff" stroke="#4a4a4a" stroke-width="1.0" stroke-linecap="round" stroke-linejoin="round" />
<ellipse cx="595.3" cy="374" rx="1.5" ry="3" transform="rotate(-15 595.3 374)" fill="none" stroke="#4a4a4a" stroke-width="0.9"/>
<ellipse cx="604.5" cy="376" rx="3.8" ry="6.2" transform="rotate(22 604.5 376)" fill="#fff" stroke="#4a4a4a" stroke-width="1.1"/>
<ellipse cx="604.8" cy="376" rx="2.1" ry="3.8" transform="rotate(22 604.8 376)" fill="#ddd" stroke="#4a4a4a" stroke-width="0.9"/>
<path d="M680.4 339.8 L680.2 345.3 L681.2 347.3 L680.8 350.3 L682.7 351.8 L685.7 351.8 L687.6 350.3 L687.2 347.3 L688.2 345.3 L688 339.8" fill="#fff" stroke="#4a4a4a" stroke-width="1.0" stroke-linecap="round" stroke-linejoin="round" />
<ellipse cx="684.2" cy="338.3" rx="7" ry="3.2" transform="rotate(0 684.2 338.3)" fill="#fff" stroke="#4a4a4a" stroke-width="1.1"/>
<ellipse cx="684.2" cy="338.6" rx="4.6" ry="1.7" transform="rotate(0 684.2 338.6)" fill="none" stroke="#4a4a4a" stroke-width="0.9"/>
<path d="M681.2 347.3 L687.2 347.3" fill="none" stroke="#4a4a4a" stroke-width="0.8" stroke-linecap="round" stroke-linejoin="round" />
<path d="M717.9 351.2 L717.7 356.7 L718.7 358.7 L718.3 361.7 L720.2 363.2 L723.2 363.2 L725.1 361.7 L724.7 358.7 L725.7 356.7 L725.5 351.2" fill="#fff" stroke="#4a4a4a" stroke-width="1.0" stroke-linecap="round" stroke-linejoin="round" />
<ellipse cx="721.7" cy="349.7" rx="7" ry="3.2" transform="rotate(0 721.7 349.7)" fill="#fff" stroke="#4a4a4a" stroke-width="1.1"/>
<ellipse cx="721.7" cy="350" rx="4.6" ry="1.7" transform="rotate(0 721.7 350)" fill="none" stroke="#4a4a4a" stroke-width="0.9"/>
<path d="M718.7 358.7 L724.7 358.7" fill="none" stroke="#4a4a4a" stroke-width="0.8" stroke-linecap="round" stroke-linejoin="round" />
</svg>
</body>
</html>
